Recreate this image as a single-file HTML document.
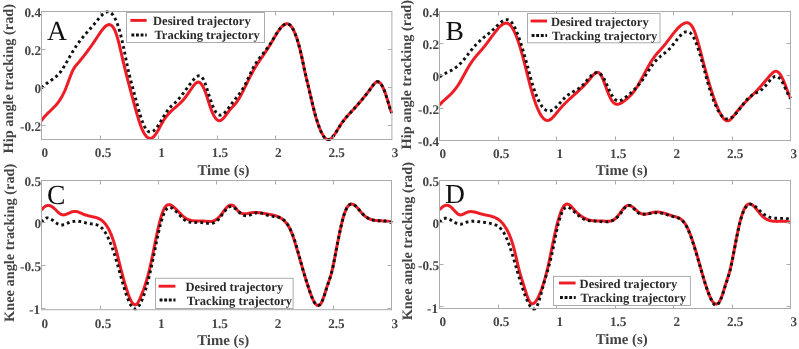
<!DOCTYPE html>
<html><head><meta charset="utf-8"><title>Tracking trajectories</title>
<style>
html,body{margin:0;padding:0;background:#fff;}
svg{display:block;font-family:"Liberation Serif", serif;text-rendering:geometricPrecision;}
.tk{font-size:13.2px;font-weight:bold;fill:#444444;}
.lg{font-size:12.55px;font-weight:bold;fill:#2a2a2a;}
.xl{font-size:14.8px;font-weight:bold;fill:#444444;}
.yl{font-size:14.36px;font-weight:bold;fill:#444444;}
.let{font-size:27.6px;fill:#111;}
</style></head><body>
<svg width="799" height="349" viewBox="0 0 799 349">
<rect width="799" height="349" fill="#fff"/>
<defs><filter id="nf" x="0" y="0" width="100%" height="100%" filterUnits="userSpaceOnUse" color-interpolation-filters="sRGB"><feOffset dx="0" dy="0"/></filter></defs>
<g>
<clipPath id="cA"><rect x="40.7" y="10.0" width="352.4" height="131.0"/></clipPath>
<path d="M41.4 120.8 L41.9 120.1 L42.4 119.4 L42.9 118.7 L43.4 118.1 L43.9 117.5 L44.4 116.9 L44.9 116.3 L45.4 115.7 L45.9 115.2 L46.4 114.7 L46.9 114.1 L47.4 113.6 L47.9 113.1 L48.4 112.6 L48.9 112.2 L49.4 111.7 L49.9 111.2 L50.4 110.7 L50.9 110.3 L51.4 109.8 L51.9 109.3 L52.4 108.8 L52.9 108.3 L53.4 107.8 L53.9 107.3 L54.4 106.8 L54.9 106.3 L55.4 105.7 L55.9 105.2 L56.4 104.6 L56.9 104.0 L57.4 103.4 L57.9 102.7 L58.4 102.1 L58.9 101.4 L59.4 100.6 L59.9 99.9 L60.4 99.1 L60.9 98.3 L61.4 97.5 L61.9 96.6 L62.4 95.7 L62.9 94.7 L63.4 93.7 L63.9 92.7 L64.4 91.6 L64.9 90.5 L65.4 89.3 L65.9 88.1 L66.4 86.8 L66.9 85.5 L67.4 84.2 L67.9 82.9 L68.4 81.5 L68.9 80.1 L69.4 78.8 L69.9 77.4 L70.4 76.1 L70.9 74.8 L71.4 73.6 L71.9 72.4 L72.4 71.3 L72.9 70.2 L73.4 69.3 L73.9 68.4 L74.4 67.6 L74.9 66.9 L75.4 66.2 L75.9 65.6 L76.4 65.0 L76.9 64.4 L77.4 63.8 L77.9 63.2 L78.4 62.7 L78.9 62.1 L79.4 61.5 L79.9 60.9 L80.4 60.3 L80.9 59.6 L81.4 59.0 L81.9 58.4 L82.4 57.8 L82.9 57.1 L83.4 56.5 L83.9 55.9 L84.4 55.2 L84.9 54.6 L85.4 53.9 L85.9 53.3 L86.4 52.6 L86.9 52.0 L87.4 51.3 L87.9 50.6 L88.4 49.9 L88.9 49.2 L89.4 48.6 L89.9 47.9 L90.4 47.2 L90.9 46.5 L91.4 45.7 L91.9 45.0 L92.4 44.3 L92.9 43.6 L93.4 42.8 L93.9 42.1 L94.4 41.4 L94.9 40.6 L95.4 39.8 L95.9 39.1 L96.4 38.3 L96.9 37.6 L97.4 36.8 L97.9 36.0 L98.4 35.3 L98.9 34.5 L99.4 33.8 L99.9 33.1 L100.4 32.3 L100.9 31.7 L101.4 31.0 L101.9 30.3 L102.4 29.7 L102.9 29.1 L103.4 28.5 L103.9 27.9 L104.4 27.4 L104.9 26.9 L105.4 26.4 L105.9 26.0 L106.4 25.6 L106.9 25.3 L107.4 25.1 L107.9 24.9 L108.4 24.7 L108.9 24.6 L109.4 24.6 L109.9 24.7 L110.4 24.9 L110.9 25.1 L111.4 25.4 L111.9 25.8 L112.4 26.3 L112.9 27.0 L113.4 27.7 L113.9 28.5 L114.4 29.4 L114.9 30.5 L115.4 31.7 L115.9 33.0 L116.4 34.4 L116.9 36.0 L117.4 37.6 L117.9 39.4 L118.4 41.3 L118.9 43.2 L119.4 45.2 L119.9 47.3 L120.4 49.4 L120.9 51.5 L121.4 53.7 L121.9 55.9 L122.4 58.1 L122.9 60.2 L123.4 62.4 L123.9 64.5 L124.4 66.6 L124.9 68.7 L125.4 70.7 L125.9 72.7 L126.4 74.7 L126.9 76.7 L127.4 78.6 L127.9 80.5 L128.4 82.5 L128.9 84.4 L129.4 86.2 L129.9 88.1 L130.4 90.0 L130.9 91.8 L131.4 93.7 L131.9 95.5 L132.4 97.4 L132.9 99.2 L133.4 101.1 L133.9 102.9 L134.4 104.8 L134.9 106.6 L135.4 108.5 L135.9 110.3 L136.4 112.1 L136.9 113.8 L137.4 115.5 L137.9 117.2 L138.4 118.9 L138.9 120.5 L139.4 122.0 L139.9 123.5 L140.4 124.9 L140.9 126.3 L141.4 127.6 L141.9 128.8 L142.4 129.9 L142.9 131.0 L143.4 132.0 L143.9 132.9 L144.4 133.8 L144.9 134.5 L145.4 135.2 L145.9 135.9 L146.4 136.4 L146.9 136.9 L147.4 137.3 L147.9 137.7 L148.4 138.0 L148.9 138.2 L149.4 138.3 L149.9 138.4 L150.4 138.4 L150.9 138.3 L151.4 138.2 L151.9 138.0 L152.4 137.7 L152.9 137.3 L153.4 136.9 L153.9 136.5 L154.4 135.9 L154.9 135.3 L155.4 134.6 L155.9 133.9 L156.4 133.2 L156.9 132.4 L157.4 131.5 L157.9 130.7 L158.4 129.8 L158.9 128.9 L159.4 127.9 L159.9 127.0 L160.4 126.1 L160.9 125.1 L161.4 124.2 L161.9 123.3 L162.4 122.4 L162.9 121.6 L163.4 120.8 L163.9 120.0 L164.4 119.2 L164.9 118.5 L165.4 117.8 L165.9 117.1 L166.4 116.4 L166.9 115.8 L167.4 115.2 L167.9 114.6 L168.4 114.0 L168.9 113.5 L169.4 112.9 L169.9 112.4 L170.4 111.9 L170.9 111.4 L171.4 110.9 L171.9 110.5 L172.4 110.0 L172.9 109.6 L173.4 109.1 L173.9 108.7 L174.4 108.2 L174.9 107.8 L175.4 107.4 L175.9 106.9 L176.4 106.5 L176.9 106.1 L177.4 105.6 L177.9 105.2 L178.4 104.8 L178.9 104.3 L179.4 103.8 L179.9 103.4 L180.4 102.9 L180.9 102.4 L181.4 101.9 L181.9 101.4 L182.4 100.9 L182.9 100.3 L183.4 99.7 L183.9 99.1 L184.4 98.5 L184.9 97.9 L185.4 97.3 L185.9 96.6 L186.4 95.9 L186.9 95.2 L187.4 94.5 L187.9 93.8 L188.4 93.1 L188.9 92.4 L189.4 91.7 L189.9 90.9 L190.4 90.2 L190.9 89.5 L191.4 88.8 L191.9 88.0 L192.4 87.3 L192.9 86.6 L193.4 85.9 L193.9 85.3 L194.4 84.7 L194.9 84.1 L195.4 83.6 L195.9 83.1 L196.4 82.8 L196.9 82.5 L197.4 82.2 L197.9 82.1 L198.4 82.1 L198.9 82.2 L199.4 82.4 L199.9 82.7 L200.4 83.1 L200.9 83.6 L201.4 84.2 L201.9 84.9 L202.4 85.7 L202.9 86.5 L203.4 87.5 L203.9 88.5 L204.4 89.7 L204.9 90.9 L205.4 92.2 L205.9 93.6 L206.4 95.0 L206.9 96.5 L207.4 98.1 L207.9 99.7 L208.4 101.3 L208.9 102.9 L209.4 104.5 L209.9 106.0 L210.4 107.4 L210.9 108.8 L211.4 110.2 L211.9 111.4 L212.4 112.6 L212.9 113.7 L213.4 114.7 L213.9 115.7 L214.4 116.5 L214.9 117.3 L215.4 118.0 L215.9 118.7 L216.4 119.2 L216.9 119.7 L217.4 120.0 L217.9 120.3 L218.4 120.5 L218.9 120.7 L219.4 120.7 L219.9 120.6 L220.4 120.5 L220.9 120.3 L221.4 120.0 L221.9 119.6 L222.4 119.2 L222.9 118.8 L223.4 118.2 L223.9 117.7 L224.4 117.1 L224.9 116.5 L225.4 115.8 L225.9 115.2 L226.4 114.5 L226.9 113.8 L227.4 113.1 L227.9 112.4 L228.4 111.7 L228.9 111.1 L229.4 110.4 L229.9 109.8 L230.4 109.2 L230.9 108.6 L231.4 108.1 L231.9 107.5 L232.4 107.0 L232.9 106.5 L233.4 105.9 L233.9 105.4 L234.4 104.9 L234.9 104.3 L235.4 103.7 L235.9 103.1 L236.4 102.4 L236.9 101.8 L237.4 101.0 L237.9 100.3 L238.4 99.5 L238.9 98.7 L239.4 97.9 L239.9 97.0 L240.4 96.1 L240.9 95.2 L241.4 94.3 L241.9 93.4 L242.4 92.4 L242.9 91.4 L243.4 90.4 L243.9 89.4 L244.4 88.4 L244.9 87.4 L245.4 86.4 L245.9 85.4 L246.4 84.4 L246.9 83.3 L247.4 82.3 L247.9 81.3 L248.4 80.2 L248.9 79.2 L249.4 78.2 L249.9 77.2 L250.4 76.2 L250.9 75.2 L251.4 74.3 L251.9 73.3 L252.4 72.4 L252.9 71.4 L253.4 70.5 L253.9 69.6 L254.4 68.7 L254.9 67.9 L255.4 67.0 L255.9 66.2 L256.4 65.4 L256.9 64.6 L257.4 63.9 L257.9 63.1 L258.4 62.4 L258.9 61.6 L259.4 60.9 L259.9 60.2 L260.4 59.4 L260.9 58.7 L261.4 58.0 L261.9 57.3 L262.4 56.6 L262.9 55.8 L263.4 55.1 L263.9 54.4 L264.4 53.7 L264.9 52.9 L265.4 52.2 L265.9 51.4 L266.4 50.7 L266.9 49.9 L267.4 49.2 L267.9 48.4 L268.4 47.6 L268.9 46.8 L269.4 46.0 L269.9 45.2 L270.4 44.3 L270.9 43.5 L271.4 42.6 L271.9 41.8 L272.4 40.9 L272.9 40.1 L273.4 39.2 L273.9 38.3 L274.4 37.5 L274.9 36.6 L275.4 35.8 L275.9 34.9 L276.4 34.1 L276.9 33.3 L277.4 32.5 L277.9 31.7 L278.4 31.0 L278.9 30.3 L279.4 29.6 L279.9 28.9 L280.4 28.3 L280.9 27.7 L281.4 27.1 L281.9 26.6 L282.4 26.1 L282.9 25.6 L283.4 25.2 L283.9 24.9 L284.4 24.6 L284.9 24.3 L285.4 24.1 L285.9 23.9 L286.4 23.8 L286.9 23.8 L287.4 23.8 L287.9 23.9 L288.4 24.1 L288.9 24.3 L289.4 24.6 L289.9 25.0 L290.4 25.4 L290.9 26.0 L291.4 26.6 L291.9 27.3 L292.4 28.0 L292.9 28.9 L293.4 29.8 L293.9 30.8 L294.4 31.9 L294.9 33.1 L295.4 34.3 L295.9 35.6 L296.4 37.0 L296.9 38.5 L297.4 40.1 L297.9 41.7 L298.4 43.4 L298.9 45.2 L299.4 47.1 L299.9 49.0 L300.4 51.1 L300.9 53.2 L301.4 55.4 L301.9 57.6 L302.4 60.0 L302.9 62.4 L303.4 64.8 L303.9 67.2 L304.4 69.6 L304.9 71.9 L305.4 74.1 L305.9 76.2 L306.4 78.2 L306.9 80.3 L307.4 82.3 L307.9 84.3 L308.4 86.4 L308.9 88.5 L309.4 90.6 L309.9 92.8 L310.4 95.0 L310.9 97.2 L311.4 99.3 L311.9 101.5 L312.4 103.7 L312.9 105.8 L313.4 107.9 L313.9 109.9 L314.4 111.9 L314.9 113.8 L315.4 115.6 L315.9 117.3 L316.4 119.0 L316.9 120.6 L317.4 122.1 L317.9 123.6 L318.4 125.0 L318.9 126.4 L319.4 127.6 L319.9 128.9 L320.4 130.0 L320.9 131.2 L321.4 132.2 L321.9 133.2 L322.4 134.1 L322.9 135.0 L323.4 135.8 L323.9 136.5 L324.4 137.2 L324.9 137.8 L325.4 138.3 L325.9 138.7 L326.4 139.1 L326.9 139.3 L327.4 139.5 L327.9 139.7 L328.4 139.7 L328.9 139.7 L329.4 139.5 L329.9 139.3 L330.4 139.0 L330.9 138.7 L331.4 138.3 L331.9 137.8 L332.4 137.3 L332.9 136.7 L333.4 136.1 L333.9 135.4 L334.4 134.7 L334.9 134.0 L335.4 133.2 L335.9 132.4 L336.4 131.6 L336.9 130.8 L337.4 130.0 L337.9 129.2 L338.4 128.3 L338.9 127.5 L339.4 126.7 L339.9 125.9 L340.4 125.1 L340.9 124.4 L341.4 123.6 L341.9 122.9 L342.4 122.2 L342.9 121.5 L343.4 120.8 L343.9 120.2 L344.4 119.6 L344.9 118.9 L345.4 118.3 L345.9 117.7 L346.4 117.1 L346.9 116.6 L347.4 116.0 L347.9 115.4 L348.4 114.9 L348.9 114.3 L349.4 113.8 L349.9 113.2 L350.4 112.7 L350.9 112.2 L351.4 111.6 L351.9 111.1 L352.4 110.5 L352.9 110.0 L353.4 109.5 L353.9 108.9 L354.4 108.4 L354.9 107.8 L355.4 107.3 L355.9 106.7 L356.4 106.1 L356.9 105.6 L357.4 105.0 L357.9 104.4 L358.4 103.9 L358.9 103.3 L359.4 102.7 L359.9 102.1 L360.4 101.6 L360.9 101.0 L361.4 100.4 L361.9 99.8 L362.4 99.2 L362.9 98.6 L363.4 98.0 L363.9 97.3 L364.4 96.7 L364.9 96.1 L365.4 95.5 L365.9 94.8 L366.4 94.2 L366.9 93.6 L367.4 92.9 L367.9 92.3 L368.4 91.6 L368.9 90.9 L369.4 90.3 L369.9 89.6 L370.4 88.9 L370.9 88.2 L371.4 87.5 L371.9 86.9 L372.4 86.2 L372.9 85.5 L373.4 84.8 L373.9 84.2 L374.4 83.7 L374.9 83.1 L375.4 82.7 L375.9 82.3 L376.4 82.0 L376.9 81.8 L377.4 81.7 L377.9 81.7 L378.4 81.8 L378.9 82.1 L379.4 82.4 L379.9 82.8 L380.4 83.3 L380.9 83.9 L381.4 84.7 L381.9 85.5 L382.4 86.4 L382.9 87.3 L383.4 88.4 L383.9 89.6 L384.4 90.8 L384.9 92.1 L385.4 93.5 L385.9 94.9 L386.4 96.5 L386.9 98.1 L387.4 99.7 L387.9 101.4 L388.4 103.1 L388.9 104.8 L389.4 106.4 L389.9 108.0 L390.4 109.5 L390.9 110.9 L391.4 112.3 L391.7 113.0" fill="none" stroke="#ee1c25" stroke-width="3" stroke-linejoin="round" clip-path="url(#cA)"/>
<path d="M41.6 88.0 L42.1 87.5 L42.6 86.9 L43.1 86.4 L43.6 86.0 L44.1 85.5 L44.6 85.1 L45.1 84.7 L45.6 84.2 L46.1 83.8 L46.6 83.5 L47.1 83.1 L47.6 82.7 L48.1 82.4 L48.6 82.0 L49.1 81.7 L49.6 81.3 L50.1 81.0 L50.6 80.7 L51.1 80.3 L51.6 80.0 L52.1 79.6 L52.6 79.3 L53.1 78.9 L53.6 78.6 L54.1 78.2 L54.6 77.8 L55.1 77.4 L55.6 77.0 L56.1 76.5 L56.6 76.1 L57.1 75.6 L57.6 75.1 L58.1 74.6 L58.6 74.1 L59.1 73.6 L59.6 73.0 L60.1 72.4 L60.6 71.7 L61.1 71.1 L61.6 70.4 L62.1 69.7 L62.6 68.9 L63.1 68.1 L63.6 67.3 L64.1 66.5 L64.6 65.7 L65.1 64.9 L65.6 64.0 L66.1 63.1 L66.6 62.3 L67.1 61.4 L67.6 60.5 L68.1 59.6 L68.6 58.7 L69.1 57.8 L69.6 56.9 L70.1 56.1 L70.6 55.2 L71.1 54.3 L71.6 53.5 L72.1 52.6 L72.6 51.8 L73.1 51.0 L73.6 50.2 L74.1 49.3 L74.6 48.6 L75.1 47.8 L75.6 47.0 L76.1 46.2 L76.6 45.5 L77.1 44.8 L77.6 44.0 L78.1 43.3 L78.6 42.6 L79.1 42.0 L79.6 41.3 L80.1 40.6 L80.6 40.0 L81.1 39.4 L81.6 38.7 L82.1 38.1 L82.6 37.5 L83.1 36.9 L83.6 36.3 L84.1 35.7 L84.6 35.1 L85.1 34.5 L85.6 34.0 L86.1 33.4 L86.6 32.8 L87.1 32.3 L87.6 31.7 L88.1 31.1 L88.6 30.6 L89.1 30.0 L89.6 29.5 L90.1 28.9 L90.6 28.4 L91.1 27.8 L91.6 27.2 L92.1 26.7 L92.6 26.1 L93.1 25.5 L93.6 24.9 L94.1 24.3 L94.6 23.7 L95.1 23.1 L95.6 22.5 L96.1 21.9 L96.6 21.3 L97.1 20.7 L97.6 20.0 L98.1 19.4 L98.6 18.8 L99.1 18.2 L99.6 17.6 L100.1 17.0 L100.6 16.5 L101.1 15.9 L101.6 15.4 L102.1 14.9 L102.6 14.5 L103.1 14.0 L103.6 13.6 L104.1 13.2 L104.6 12.9 L105.1 12.6 L105.6 12.4 L106.1 12.2 L106.6 12.0 L107.1 11.9 L107.6 11.9 L108.1 11.9 L108.6 11.9 L109.1 12.1 L109.6 12.2 L110.1 12.5 L110.6 12.8 L111.1 13.1 L111.6 13.5 L112.1 14.0 L112.6 14.6 L113.1 15.2 L113.6 16.0 L114.1 16.7 L114.6 17.6 L115.1 18.6 L115.6 19.6 L116.1 20.7 L116.6 21.9 L117.1 23.2 L117.6 24.6 L118.1 26.0 L118.6 27.6 L119.1 29.2 L119.6 31.0 L120.1 32.8 L120.6 34.7 L121.1 36.7 L121.6 38.8 L122.1 40.9 L122.6 43.1 L123.1 45.3 L123.6 47.6 L124.1 50.0 L124.6 52.4 L125.1 54.9 L125.6 57.4 L126.1 59.9 L126.6 62.4 L127.1 64.8 L127.6 67.2 L128.1 69.5 L128.6 71.7 L129.1 73.8 L129.6 75.9 L130.1 77.9 L130.6 79.8 L131.1 81.7 L131.6 83.6 L132.1 85.4 L132.6 87.3 L133.1 89.1 L133.6 91.0 L134.1 92.9 L134.6 94.8 L135.1 96.7 L135.6 98.6 L136.1 100.4 L136.6 102.3 L137.1 104.2 L137.6 106.0 L138.1 107.8 L138.6 109.6 L139.1 111.3 L139.6 113.0 L140.1 114.7 L140.6 116.3 L141.1 117.8 L141.6 119.3 L142.1 120.7 L142.6 122.1 L143.1 123.3 L143.6 124.5 L144.1 125.7 L144.6 126.7 L145.1 127.6 L145.6 128.5 L146.1 129.2 L146.6 129.8 L147.1 130.4 L147.6 130.9 L148.1 131.3 L148.6 131.6 L149.1 131.8 L149.6 132.0 L150.1 132.1 L150.6 132.1 L151.1 132.0 L151.6 131.9 L152.1 131.7 L152.6 131.5 L153.1 131.2 L153.6 130.8 L154.1 130.4 L154.6 129.9 L155.1 129.4 L155.6 128.9 L156.1 128.3 L156.6 127.6 L157.1 127.0 L157.6 126.3 L158.1 125.6 L158.6 124.8 L159.1 124.0 L159.6 123.2 L160.1 122.4 L160.6 121.6 L161.1 120.8 L161.6 119.9 L162.1 119.1 L162.6 118.2 L163.1 117.4 L163.6 116.5 L164.1 115.7 L164.6 114.9 L165.1 114.1 L165.6 113.3 L166.1 112.5 L166.6 111.8 L167.1 111.1 L167.6 110.4 L168.1 109.7 L168.6 109.1 L169.1 108.5 L169.6 108.0 L170.1 107.4 L170.6 106.9 L171.1 106.4 L171.6 105.9 L172.1 105.5 L172.6 105.0 L173.1 104.5 L173.6 104.1 L174.1 103.6 L174.6 103.2 L175.1 102.7 L175.6 102.2 L176.1 101.7 L176.6 101.2 L177.1 100.7 L177.6 100.2 L178.1 99.6 L178.6 99.0 L179.1 98.5 L179.6 97.9 L180.1 97.3 L180.6 96.6 L181.1 96.0 L181.6 95.4 L182.1 94.8 L182.6 94.1 L183.1 93.5 L183.6 92.8 L184.1 92.1 L184.6 91.5 L185.1 90.8 L185.6 90.1 L186.1 89.4 L186.6 88.7 L187.1 88.1 L187.6 87.4 L188.1 86.7 L188.6 86.0 L189.1 85.4 L189.6 84.7 L190.1 84.0 L190.6 83.4 L191.1 82.7 L191.6 82.1 L192.1 81.4 L192.6 80.8 L193.1 80.2 L193.6 79.6 L194.1 79.0 L194.6 78.4 L195.1 77.9 L195.6 77.5 L196.1 77.0 L196.6 76.7 L197.1 76.4 L197.6 76.1 L198.1 75.9 L198.6 75.8 L199.1 75.8 L199.6 75.8 L200.1 76.0 L200.6 76.2 L201.1 76.5 L201.6 76.9 L202.1 77.5 L202.6 78.2 L203.1 78.9 L203.6 79.8 L204.1 80.9 L204.6 82.0 L205.1 83.3 L205.6 84.7 L206.1 86.1 L206.6 87.7 L207.1 89.2 L207.6 90.8 L208.1 92.4 L208.6 93.9 L209.1 95.5 L209.6 97.0 L210.1 98.6 L210.6 100.0 L211.1 101.5 L211.6 102.9 L212.1 104.2 L212.6 105.5 L213.1 106.7 L213.6 107.9 L214.1 109.0 L214.6 110.0 L215.1 110.9 L215.6 111.8 L216.1 112.5 L216.6 113.1 L217.1 113.7 L217.6 114.1 L218.1 114.5 L218.6 114.8 L219.1 115.0 L219.6 115.1 L220.1 115.1 L220.6 115.1 L221.1 115.0 L221.6 114.8 L222.1 114.6 L222.6 114.3 L223.1 114.0 L223.6 113.6 L224.1 113.2 L224.6 112.7 L225.1 112.2 L225.6 111.7 L226.1 111.1 L226.6 110.5 L227.1 109.9 L227.6 109.2 L228.1 108.6 L228.6 107.9 L229.1 107.2 L229.6 106.5 L230.1 105.8 L230.6 105.1 L231.1 104.4 L231.6 103.7 L232.1 103.1 L232.6 102.4 L233.1 101.8 L233.6 101.1 L234.1 100.5 L234.6 99.9 L235.1 99.2 L235.6 98.6 L236.1 98.0 L236.6 97.4 L237.1 96.8 L237.6 96.1 L238.1 95.5 L238.6 94.8 L239.1 94.2 L239.6 93.5 L240.1 92.8 L240.6 92.1 L241.1 91.4 L241.6 90.6 L242.1 89.8 L242.6 89.0 L243.1 88.2 L243.6 87.4 L244.1 86.5 L244.6 85.5 L245.1 84.6 L245.6 83.6 L246.1 82.6 L246.6 81.6 L247.1 80.5 L247.6 79.5 L248.1 78.4 L248.6 77.4 L249.1 76.3 L249.6 75.2 L250.1 74.2 L250.6 73.1 L251.1 72.0 L251.6 71.0 L252.1 70.0 L252.6 69.0 L253.1 68.0 L253.6 67.0 L254.1 66.1 L254.6 65.2 L255.1 64.3 L255.6 63.5 L256.1 62.7 L256.6 62.0 L257.1 61.2 L257.6 60.5 L258.1 59.9 L258.6 59.2 L259.1 58.5 L259.6 57.9 L260.1 57.2 L260.6 56.6 L261.1 56.0 L261.6 55.4 L262.1 54.7 L262.6 54.1 L263.1 53.5 L263.6 52.8 L264.1 52.2 L264.6 51.6 L265.1 50.9 L265.6 50.3 L266.1 49.6 L266.6 49.0 L267.1 48.3 L267.6 47.6 L268.1 46.9 L268.6 46.2 L269.1 45.5 L269.6 44.7 L270.1 44.0 L270.6 43.2 L271.1 42.4 L271.6 41.6 L272.1 40.8 L272.6 40.0 L273.1 39.2 L273.6 38.4 L274.1 37.6 L274.6 36.7 L275.1 35.9 L275.6 35.1 L276.1 34.3 L276.6 33.5 L277.1 32.8 L277.6 32.0 L278.1 31.3 L278.6 30.6 L279.1 29.9 L279.6 29.2 L280.1 28.6 L280.6 27.9 L281.1 27.4 L281.6 26.8 L282.1 26.3 L282.6 25.9 L283.1 25.4 L283.6 25.1 L284.1 24.7 L284.6 24.4 L285.1 24.2 L285.6 24.0 L286.1 23.9 L286.6 23.8 L287.1 23.8 L287.6 23.9 L288.1 24.0 L288.6 24.2 L289.1 24.5 L289.6 24.8 L290.1 25.2 L290.6 25.7 L291.1 26.3 L291.6 26.9 L292.1 27.6 L292.6 28.5 L293.1 29.3 L293.6 30.3 L294.1 31.4 L294.6 32.5 L295.1 33.7 L295.6 35.0 L296.1 36.3 L296.6 37.7 L297.1 39.2 L297.6 40.8 L298.1 42.5 L298.6 44.2 L299.1 46.0 L299.6 47.9 L300.1 49.9 L300.6 51.9 L301.1 54.0 L301.6 56.2 L302.1 58.4 L302.6 60.7 L303.1 63.1 L303.6 65.4 L304.1 67.8 L304.6 70.2 L305.1 72.5 L305.6 74.7 L306.1 76.9 L306.6 79.1 L307.1 81.3 L307.6 83.4 L308.1 85.5 L308.6 87.7 L309.1 89.8 L309.6 91.9 L310.1 94.0 L310.6 96.1 L311.1 98.2 L311.6 100.3 L312.1 102.3 L312.6 104.3 L313.1 106.3 L313.6 108.3 L314.1 110.2 L314.6 112.1 L315.1 114.0 L315.6 115.8 L316.1 117.5 L316.6 119.3 L317.1 120.9 L317.6 122.5 L318.1 124.0 L318.6 125.5 L319.1 126.9 L319.6 128.3 L320.1 129.5 L320.6 130.7 L321.1 131.9 L321.6 132.9 L322.1 133.9 L322.6 134.8 L323.1 135.6 L323.6 136.4 L324.1 137.0 L324.6 137.6 L325.1 138.2 L325.6 138.6 L326.1 139.0 L326.6 139.3 L327.1 139.5 L327.6 139.6 L328.1 139.7 L328.6 139.6 L329.1 139.5 L329.6 139.3 L330.1 139.1 L330.6 138.8 L331.1 138.4 L331.6 137.9 L332.1 137.4 L332.6 136.9 L333.1 136.3 L333.6 135.7 L334.1 135.0 L334.6 134.3 L335.1 133.6 L335.6 132.8 L336.1 132.1 L336.6 131.3 L337.1 130.5 L337.6 129.7 L338.1 128.8 L338.6 128.0 L339.1 127.2 L339.6 126.4 L340.1 125.6 L340.6 124.9 L341.1 124.1 L341.6 123.4 L342.1 122.7 L342.6 122.0 L343.1 121.3 L343.6 120.7 L344.1 120.0 L344.6 119.4 L345.1 118.8 L345.6 118.1 L346.1 117.5 L346.6 117.0 L347.1 116.4 L347.6 115.8 L348.1 115.2 L348.6 114.7 L349.1 114.1 L349.6 113.6 L350.1 113.0 L350.6 112.5 L351.1 111.9 L351.6 111.4 L352.1 110.8 L352.6 110.3 L353.1 109.8 L353.6 109.2 L354.1 108.7 L354.6 108.1 L355.1 107.5 L355.6 107.0 L356.1 106.4 L356.6 105.9 L357.1 105.3 L357.6 104.7 L358.1 104.2 L358.6 103.6 L359.1 103.0 L359.6 102.5 L360.1 101.9 L360.6 101.3 L361.1 100.7 L361.6 100.1 L362.1 99.5 L362.6 98.9 L363.1 98.3 L363.6 97.7 L364.1 97.1 L364.6 96.5 L365.1 95.9 L365.6 95.2 L366.1 94.6 L366.6 94.0 L367.1 93.3 L367.6 92.7 L368.1 92.0 L368.6 91.4 L369.1 90.7 L369.6 90.0 L370.1 89.4 L370.6 88.7 L371.1 88.0 L371.6 87.3 L372.1 86.6 L372.6 85.9 L373.1 85.2 L373.6 84.6 L374.1 84.0 L374.6 83.4 L375.1 82.9 L375.6 82.5 L376.1 82.2 L376.6 81.9 L377.1 81.7 L377.6 81.7 L378.1 81.7 L378.6 81.9 L379.1 82.2 L379.6 82.5 L380.1 83.0 L380.6 83.6 L381.1 84.2 L381.6 85.0 L382.1 85.8 L382.6 86.8 L383.1 87.8 L383.6 88.9 L384.1 90.1 L384.6 91.3 L385.1 92.7 L385.6 94.1 L386.1 95.6 L386.6 97.1 L387.1 98.7 L387.6 100.4 L388.1 102.0 L388.6 103.7 L389.1 105.4 L389.6 107.0 L390.1 108.6 L390.6 110.1 L391.1 111.5 L391.6 112.8 L391.7 113.0" fill="none" stroke="#111" stroke-width="2.9" stroke-dasharray="2.8 3.1" stroke-linejoin="round" clip-path="url(#cA)"/>
<rect x="41.5" y="11.5" width="350.4" height="128.0" fill="none" stroke="#acacac" stroke-width="1"/>
<path d="M100.5 139.5 v-4 M100.5 11.5 v4 M158.5 139.5 v-4 M158.5 11.5 v4 M217.5 139.5 v-4 M217.5 11.5 v4 M275.5 139.5 v-4 M275.5 11.5 v4 M333.5 139.5 v-4 M333.5 11.5 v4 M41.5 11.5 h4 M391.9 11.5 h-4 M41.5 49.5 h4 M391.9 49.5 h-4 M41.5 87.5 h4 M391.9 87.5 h-4 M41.5 125.5 h4 M391.9 125.5 h-4" stroke="#acacac" stroke-width="1" fill="none"/>
<rect x="126.5" y="12.5" width="138.0" height="30.0" fill="#fff" stroke="#acacac" stroke-width="1"/>
<path d="M130.4 20.4 H146.6" stroke="#ee1c25" stroke-width="2.9"/>
<path d="M131.4 35 H146.7" stroke="#111" stroke-width="3" stroke-dasharray="2.9 1.7"/>
<clipPath id="cB"><rect x="438.7" y="10.0" width="353.0" height="132.0"/></clipPath>
<path d="M439.2 105.2 L439.7 104.7 L440.2 104.2 L440.7 103.6 L441.2 103.1 L441.7 102.6 L442.2 102.1 L442.7 101.6 L443.2 101.2 L443.7 100.7 L444.2 100.2 L444.7 99.8 L445.2 99.3 L445.7 98.9 L446.2 98.4 L446.7 98.0 L447.2 97.5 L447.7 97.0 L448.2 96.6 L448.7 96.1 L449.2 95.7 L449.7 95.2 L450.2 94.7 L450.7 94.2 L451.2 93.7 L451.7 93.2 L452.2 92.7 L452.7 92.1 L453.2 91.6 L453.7 91.0 L454.2 90.4 L454.7 89.8 L455.2 89.2 L455.7 88.5 L456.2 87.9 L456.7 87.2 L457.2 86.5 L457.7 85.8 L458.2 85.0 L458.7 84.2 L459.2 83.4 L459.7 82.6 L460.2 81.8 L460.7 80.9 L461.2 80.0 L461.7 79.1 L462.2 78.2 L462.7 77.3 L463.2 76.4 L463.7 75.5 L464.2 74.6 L464.7 73.7 L465.2 72.8 L465.7 71.8 L466.2 70.9 L466.7 70.0 L467.2 69.1 L467.7 68.3 L468.2 67.4 L468.7 66.6 L469.2 65.7 L469.7 64.9 L470.2 64.1 L470.7 63.3 L471.2 62.6 L471.7 61.9 L472.2 61.2 L472.7 60.5 L473.2 59.8 L473.7 59.1 L474.2 58.5 L474.7 57.9 L475.2 57.2 L475.7 56.6 L476.2 56.0 L476.7 55.4 L477.2 54.8 L477.7 54.3 L478.2 53.7 L478.7 53.1 L479.2 52.5 L479.7 52.0 L480.2 51.4 L480.7 50.8 L481.2 50.3 L481.7 49.7 L482.2 49.1 L482.7 48.5 L483.2 47.9 L483.7 47.3 L484.2 46.7 L484.7 46.1 L485.2 45.4 L485.7 44.8 L486.2 44.1 L486.7 43.5 L487.2 42.8 L487.7 42.2 L488.2 41.5 L488.7 40.8 L489.2 40.1 L489.7 39.4 L490.2 38.8 L490.7 38.1 L491.2 37.4 L491.7 36.7 L492.2 36.0 L492.7 35.4 L493.2 34.7 L493.7 34.0 L494.2 33.4 L494.7 32.7 L495.2 32.1 L495.7 31.4 L496.2 30.8 L496.7 30.2 L497.2 29.6 L497.7 29.0 L498.2 28.4 L498.7 27.8 L499.2 27.3 L499.7 26.8 L500.2 26.3 L500.7 25.8 L501.2 25.4 L501.7 25.0 L502.2 24.6 L502.7 24.3 L503.2 24.0 L503.7 23.7 L504.2 23.5 L504.7 23.3 L505.2 23.2 L505.7 23.2 L506.2 23.1 L506.7 23.2 L507.2 23.3 L507.7 23.4 L508.2 23.6 L508.7 23.9 L509.2 24.3 L509.7 24.7 L510.2 25.1 L510.7 25.7 L511.2 26.3 L511.7 27.0 L512.2 27.7 L512.7 28.5 L513.2 29.4 L513.7 30.4 L514.2 31.4 L514.7 32.4 L515.2 33.5 L515.7 34.7 L516.2 35.9 L516.7 37.2 L517.2 38.6 L517.7 40.0 L518.2 41.4 L518.7 42.9 L519.2 44.4 L519.7 46.0 L520.2 47.7 L520.7 49.3 L521.2 51.0 L521.7 52.8 L522.2 54.6 L522.7 56.4 L523.2 58.2 L523.7 60.1 L524.2 62.0 L524.7 64.0 L525.2 65.9 L525.7 67.9 L526.2 69.9 L526.7 71.9 L527.2 73.9 L527.7 75.9 L528.2 77.9 L528.7 79.9 L529.2 81.9 L529.7 83.8 L530.2 85.7 L530.7 87.6 L531.2 89.4 L531.7 91.2 L532.2 92.9 L532.7 94.6 L533.2 96.2 L533.7 97.8 L534.2 99.4 L534.7 100.8 L535.2 102.3 L535.7 103.7 L536.2 105.0 L536.7 106.3 L537.2 107.6 L537.7 108.7 L538.2 109.9 L538.7 111.0 L539.2 112.0 L539.7 113.0 L540.2 113.9 L540.7 114.7 L541.2 115.6 L541.7 116.3 L542.2 117.0 L542.7 117.6 L543.2 118.2 L543.7 118.7 L544.2 119.1 L544.7 119.5 L545.2 119.9 L545.7 120.1 L546.2 120.3 L546.7 120.4 L547.2 120.5 L547.7 120.5 L548.2 120.4 L548.7 120.3 L549.2 120.1 L549.7 119.9 L550.2 119.6 L550.7 119.3 L551.2 118.9 L551.7 118.5 L552.2 118.0 L552.7 117.5 L553.2 117.0 L553.7 116.4 L554.2 115.9 L554.7 115.3 L555.2 114.7 L555.7 114.1 L556.2 113.4 L556.7 112.8 L557.2 112.2 L557.7 111.6 L558.2 111.0 L558.7 110.4 L559.2 109.8 L559.7 109.2 L560.2 108.6 L560.7 108.0 L561.2 107.5 L561.7 106.9 L562.2 106.4 L562.7 105.8 L563.2 105.3 L563.7 104.8 L564.2 104.3 L564.7 103.8 L565.2 103.2 L565.7 102.7 L566.2 102.3 L566.7 101.8 L567.2 101.3 L567.7 100.8 L568.2 100.3 L568.7 99.8 L569.2 99.4 L569.7 98.9 L570.2 98.4 L570.7 98.0 L571.2 97.5 L571.7 97.1 L572.2 96.6 L572.7 96.2 L573.2 95.7 L573.7 95.3 L574.2 94.8 L574.7 94.4 L575.2 93.9 L575.7 93.5 L576.2 93.0 L576.7 92.6 L577.2 92.1 L577.7 91.6 L578.2 91.2 L578.7 90.7 L579.2 90.3 L579.7 89.8 L580.2 89.3 L580.7 88.8 L581.2 88.4 L581.7 87.9 L582.2 87.4 L582.7 86.9 L583.2 86.4 L583.7 85.9 L584.2 85.4 L584.7 84.9 L585.2 84.3 L585.7 83.8 L586.2 83.3 L586.7 82.7 L587.2 82.2 L587.7 81.6 L588.2 81.0 L588.7 80.4 L589.2 79.8 L589.7 79.2 L590.2 78.6 L590.7 78.0 L591.2 77.4 L591.7 76.7 L592.2 76.1 L592.7 75.6 L593.2 75.0 L593.7 74.5 L594.2 74.0 L594.7 73.6 L595.2 73.2 L595.7 72.9 L596.2 72.6 L596.7 72.5 L597.2 72.4 L597.7 72.4 L598.2 72.5 L598.7 72.7 L599.2 73.1 L599.7 73.5 L600.2 74.1 L600.7 74.8 L601.2 75.6 L601.7 76.5 L602.2 77.6 L602.7 78.7 L603.2 79.8 L603.7 81.1 L604.2 82.4 L604.7 83.7 L605.2 85.1 L605.7 86.4 L606.2 87.8 L606.7 89.2 L607.2 90.6 L607.7 91.9 L608.2 93.1 L608.7 94.4 L609.2 95.5 L609.7 96.6 L610.2 97.7 L610.7 98.6 L611.2 99.5 L611.7 100.4 L612.2 101.1 L612.7 101.8 L613.2 102.3 L613.7 102.8 L614.2 103.2 L614.7 103.6 L615.2 103.8 L615.7 104.0 L616.2 104.2 L616.7 104.3 L617.2 104.3 L617.7 104.3 L618.2 104.2 L618.7 104.1 L619.2 103.9 L619.7 103.7 L620.2 103.5 L620.7 103.3 L621.2 103.0 L621.7 102.7 L622.2 102.4 L622.7 102.0 L623.2 101.7 L623.7 101.3 L624.2 101.0 L624.7 100.6 L625.2 100.2 L625.7 99.8 L626.2 99.4 L626.7 99.0 L627.2 98.6 L627.7 98.2 L628.2 97.7 L628.7 97.3 L629.2 96.8 L629.7 96.3 L630.2 95.8 L630.7 95.3 L631.2 94.7 L631.7 94.2 L632.2 93.6 L632.7 93.0 L633.2 92.4 L633.7 91.7 L634.2 91.1 L634.7 90.4 L635.2 89.7 L635.7 88.9 L636.2 88.2 L636.7 87.4 L637.2 86.6 L637.7 85.8 L638.2 84.9 L638.7 84.1 L639.2 83.2 L639.7 82.3 L640.2 81.4 L640.7 80.5 L641.2 79.6 L641.7 78.7 L642.2 77.8 L642.7 76.9 L643.2 75.9 L643.7 75.0 L644.2 74.0 L644.7 73.1 L645.2 72.2 L645.7 71.2 L646.2 70.3 L646.7 69.4 L647.2 68.5 L647.7 67.6 L648.2 66.7 L648.7 65.8 L649.2 64.9 L649.7 64.0 L650.2 63.2 L650.7 62.4 L651.2 61.5 L651.7 60.7 L652.2 60.0 L652.7 59.2 L653.2 58.5 L653.7 57.8 L654.2 57.1 L654.7 56.4 L655.2 55.8 L655.7 55.2 L656.2 54.5 L656.7 53.9 L657.2 53.4 L657.7 52.8 L658.2 52.2 L658.7 51.6 L659.2 51.1 L659.7 50.5 L660.2 50.0 L660.7 49.4 L661.2 48.9 L661.7 48.3 L662.2 47.8 L662.7 47.2 L663.2 46.6 L663.7 46.0 L664.2 45.4 L664.7 44.8 L665.2 44.2 L665.7 43.6 L666.2 42.9 L666.7 42.3 L667.2 41.6 L667.7 41.0 L668.2 40.3 L668.7 39.7 L669.2 39.0 L669.7 38.3 L670.2 37.7 L670.7 37.0 L671.2 36.3 L671.7 35.7 L672.2 35.0 L672.7 34.4 L673.2 33.7 L673.7 33.1 L674.2 32.5 L674.7 31.9 L675.2 31.2 L675.7 30.7 L676.2 30.1 L676.7 29.5 L677.2 28.9 L677.7 28.4 L678.2 27.9 L678.7 27.4 L679.2 26.9 L679.7 26.4 L680.2 26.0 L680.7 25.6 L681.2 25.2 L681.7 24.8 L682.2 24.5 L682.7 24.1 L683.2 23.9 L683.7 23.6 L684.2 23.4 L684.7 23.2 L685.2 23.0 L685.7 22.9 L686.2 22.8 L686.7 22.8 L687.2 22.8 L687.7 22.8 L688.2 23.0 L688.7 23.2 L689.2 23.4 L689.7 23.8 L690.2 24.2 L690.7 24.6 L691.2 25.2 L691.7 25.9 L692.2 26.6 L692.7 27.4 L693.2 28.4 L693.7 29.4 L694.2 30.5 L694.7 31.8 L695.2 33.1 L695.7 34.6 L696.2 36.1 L696.7 37.7 L697.2 39.3 L697.7 41.0 L698.2 42.8 L698.7 44.6 L699.2 46.5 L699.7 48.3 L700.2 50.2 L700.7 52.2 L701.2 54.1 L701.7 56.0 L702.2 58.0 L702.7 59.9 L703.2 61.8 L703.7 63.7 L704.2 65.6 L704.7 67.4 L705.2 69.3 L705.7 71.1 L706.2 72.9 L706.7 74.7 L707.2 76.5 L707.7 78.3 L708.2 80.0 L708.7 81.7 L709.2 83.4 L709.7 85.1 L710.2 86.7 L710.7 88.3 L711.2 89.9 L711.7 91.5 L712.2 93.0 L712.7 94.5 L713.2 96.0 L713.7 97.4 L714.2 98.9 L714.7 100.2 L715.2 101.6 L715.7 102.9 L716.2 104.2 L716.7 105.5 L717.2 106.7 L717.7 107.9 L718.2 109.1 L718.7 110.2 L719.2 111.3 L719.7 112.3 L720.2 113.3 L720.7 114.2 L721.2 115.1 L721.7 115.9 L722.2 116.7 L722.7 117.4 L723.2 118.1 L723.7 118.7 L724.2 119.2 L724.7 119.6 L725.2 120.0 L725.7 120.3 L726.2 120.6 L726.7 120.8 L727.2 120.8 L727.7 120.8 L728.2 120.8 L728.7 120.6 L729.2 120.4 L729.7 120.1 L730.2 119.7 L730.7 119.3 L731.2 118.8 L731.7 118.3 L732.2 117.7 L732.7 117.1 L733.2 116.5 L733.7 115.9 L734.2 115.2 L734.7 114.6 L735.2 113.9 L735.7 113.2 L736.2 112.6 L736.7 111.9 L737.2 111.3 L737.7 110.7 L738.2 110.1 L738.7 109.5 L739.2 108.9 L739.7 108.3 L740.2 107.7 L740.7 107.1 L741.2 106.6 L741.7 106.0 L742.2 105.5 L742.7 104.9 L743.2 104.4 L743.7 103.9 L744.2 103.3 L744.7 102.8 L745.2 102.3 L745.7 101.8 L746.2 101.3 L746.7 100.8 L747.2 100.3 L747.7 99.8 L748.2 99.3 L748.7 98.8 L749.2 98.3 L749.7 97.8 L750.2 97.3 L750.7 96.8 L751.2 96.3 L751.7 95.8 L752.2 95.3 L752.7 94.8 L753.2 94.3 L753.7 93.8 L754.2 93.3 L754.7 92.8 L755.2 92.3 L755.7 91.8 L756.2 91.2 L756.7 90.7 L757.2 90.2 L757.7 89.6 L758.2 89.1 L758.7 88.6 L759.2 88.0 L759.7 87.5 L760.2 86.9 L760.7 86.3 L761.2 85.8 L761.7 85.2 L762.2 84.6 L762.7 84.0 L763.2 83.5 L763.7 82.9 L764.2 82.3 L764.7 81.7 L765.2 81.1 L765.7 80.6 L766.2 80.0 L766.7 79.4 L767.2 78.8 L767.7 78.2 L768.2 77.6 L768.7 77.0 L769.2 76.4 L769.7 75.9 L770.2 75.3 L770.7 74.7 L771.2 74.2 L771.7 73.7 L772.2 73.2 L772.7 72.7 L773.2 72.4 L773.7 72.0 L774.2 71.7 L774.7 71.5 L775.2 71.4 L775.7 71.3 L776.2 71.3 L776.7 71.4 L777.2 71.6 L777.7 71.8 L778.2 72.2 L778.7 72.6 L779.2 73.1 L779.7 73.7 L780.2 74.4 L780.7 75.2 L781.2 76.0 L781.7 76.9 L782.2 77.9 L782.7 78.9 L783.2 80.0 L783.7 81.1 L784.2 82.4 L784.7 83.6 L785.2 84.9 L785.7 86.2 L786.2 87.5 L786.7 88.8 L787.2 90.2 L787.7 91.5 L788.2 92.8 L788.7 94.0 L789.2 95.2 L789.7 96.4 L790.2 97.5 L790.6 98.3" fill="none" stroke="#ee1c25" stroke-width="3" stroke-linejoin="round" clip-path="url(#cB)"/>
<path d="M439.6 76.8 L440.1 76.5 L440.6 76.1 L441.1 75.8 L441.6 75.5 L442.1 75.2 L442.6 74.9 L443.1 74.6 L443.6 74.3 L444.1 74.0 L444.6 73.7 L445.1 73.5 L445.6 73.2 L446.1 73.0 L446.6 72.7 L447.1 72.5 L447.6 72.2 L448.1 72.0 L448.6 71.7 L449.1 71.5 L449.6 71.2 L450.1 71.0 L450.6 70.7 L451.1 70.5 L451.6 70.2 L452.1 69.9 L452.6 69.6 L453.1 69.3 L453.6 69.0 L454.1 68.7 L454.6 68.4 L455.1 68.0 L455.6 67.7 L456.1 67.3 L456.6 66.9 L457.1 66.5 L457.6 66.1 L458.1 65.6 L458.6 65.2 L459.1 64.7 L459.6 64.2 L460.1 63.7 L460.6 63.2 L461.1 62.7 L461.6 62.1 L462.1 61.6 L462.6 61.0 L463.1 60.4 L463.6 59.9 L464.1 59.3 L464.6 58.7 L465.1 58.1 L465.6 57.4 L466.1 56.8 L466.6 56.2 L467.1 55.5 L467.6 54.9 L468.1 54.3 L468.6 53.6 L469.1 53.0 L469.6 52.3 L470.1 51.7 L470.6 51.1 L471.1 50.4 L471.6 49.8 L472.1 49.2 L472.6 48.6 L473.1 47.9 L473.6 47.3 L474.1 46.7 L474.6 46.2 L475.1 45.6 L475.6 45.0 L476.1 44.5 L476.6 44.0 L477.1 43.5 L477.6 43.0 L478.1 42.5 L478.6 42.0 L479.1 41.5 L479.6 41.1 L480.1 40.6 L480.6 40.2 L481.1 39.7 L481.6 39.3 L482.1 38.9 L482.6 38.5 L483.1 38.0 L483.6 37.6 L484.1 37.2 L484.6 36.8 L485.1 36.4 L485.6 36.0 L486.1 35.6 L486.6 35.2 L487.1 34.8 L487.6 34.4 L488.1 34.0 L488.6 33.6 L489.1 33.2 L489.6 32.8 L490.1 32.4 L490.6 31.9 L491.1 31.5 L491.6 31.0 L492.1 30.6 L492.6 30.1 L493.1 29.7 L493.6 29.2 L494.1 28.7 L494.6 28.2 L495.1 27.7 L495.6 27.2 L496.1 26.7 L496.6 26.2 L497.1 25.7 L497.6 25.2 L498.1 24.7 L498.6 24.2 L499.1 23.7 L499.6 23.3 L500.1 22.8 L500.6 22.4 L501.1 22.0 L501.6 21.7 L502.1 21.3 L502.6 21.0 L503.1 20.7 L503.6 20.4 L504.1 20.2 L504.6 20.0 L505.1 19.9 L505.6 19.7 L506.1 19.7 L506.6 19.6 L507.1 19.7 L507.6 19.7 L508.1 19.9 L508.6 20.1 L509.1 20.3 L509.6 20.6 L510.1 20.9 L510.6 21.4 L511.1 21.8 L511.6 22.4 L512.1 23.0 L512.6 23.7 L513.1 24.5 L513.6 25.3 L514.1 26.2 L514.6 27.2 L515.1 28.2 L515.6 29.2 L516.1 30.4 L516.6 31.5 L517.1 32.8 L517.6 34.1 L518.1 35.4 L518.6 36.7 L519.1 38.1 L519.6 39.6 L520.1 41.1 L520.6 42.6 L521.1 44.1 L521.6 45.7 L522.1 47.3 L522.6 49.0 L523.1 50.6 L523.6 52.3 L524.1 54.0 L524.6 55.8 L525.1 57.5 L525.6 59.3 L526.1 61.1 L526.6 62.9 L527.1 64.8 L527.6 66.6 L528.1 68.5 L528.6 70.4 L529.1 72.2 L529.6 74.1 L530.1 75.9 L530.6 77.8 L531.1 79.6 L531.6 81.3 L532.1 83.0 L532.6 84.7 L533.1 86.3 L533.6 87.9 L534.1 89.4 L534.6 90.8 L535.1 92.2 L535.6 93.6 L536.1 94.9 L536.6 96.1 L537.1 97.3 L537.6 98.4 L538.1 99.5 L538.6 100.5 L539.1 101.5 L539.6 102.5 L540.1 103.4 L540.6 104.2 L541.1 105.0 L541.6 105.8 L542.1 106.5 L542.6 107.1 L543.1 107.7 L543.6 108.3 L544.1 108.8 L544.6 109.2 L545.1 109.6 L545.6 110.0 L546.1 110.3 L546.6 110.6 L547.1 110.8 L547.6 110.9 L548.1 111.0 L548.6 111.1 L549.1 111.1 L549.6 111.0 L550.1 111.0 L550.6 110.8 L551.1 110.6 L551.6 110.4 L552.1 110.2 L552.6 109.9 L553.1 109.6 L553.6 109.2 L554.1 108.9 L554.6 108.5 L555.1 108.0 L555.6 107.6 L556.1 107.1 L556.6 106.6 L557.1 106.1 L557.6 105.6 L558.1 105.1 L558.6 104.5 L559.1 104.0 L559.6 103.4 L560.1 102.8 L560.6 102.3 L561.1 101.7 L561.6 101.2 L562.1 100.6 L562.6 100.0 L563.1 99.5 L563.6 99.0 L564.1 98.4 L564.6 97.9 L565.1 97.4 L565.6 97.0 L566.1 96.5 L566.6 96.1 L567.1 95.7 L567.6 95.3 L568.1 94.9 L568.6 94.5 L569.1 94.2 L569.6 93.9 L570.1 93.6 L570.6 93.2 L571.1 92.9 L571.6 92.6 L572.1 92.4 L572.6 92.1 L573.1 91.8 L573.6 91.5 L574.1 91.2 L574.6 91.0 L575.1 90.7 L575.6 90.4 L576.1 90.1 L576.6 89.8 L577.1 89.5 L577.6 89.2 L578.1 88.9 L578.6 88.5 L579.1 88.2 L579.6 87.8 L580.1 87.4 L580.6 87.0 L581.1 86.6 L581.6 86.2 L582.1 85.7 L582.6 85.2 L583.1 84.7 L583.6 84.2 L584.1 83.6 L584.6 83.1 L585.1 82.5 L585.6 81.9 L586.1 81.4 L586.6 80.8 L587.1 80.2 L587.6 79.6 L588.1 79.1 L588.6 78.5 L589.1 77.9 L589.6 77.4 L590.1 76.9 L590.6 76.4 L591.1 75.9 L591.6 75.4 L592.1 75.0 L592.6 74.6 L593.1 74.2 L593.6 73.9 L594.1 73.5 L594.6 73.3 L595.1 73.1 L595.6 72.9 L596.1 72.7 L596.6 72.6 L597.1 72.6 L597.6 72.6 L598.1 72.7 L598.6 72.8 L599.1 73.0 L599.6 73.3 L600.1 73.6 L600.6 74.0 L601.1 74.5 L601.6 75.1 L602.1 75.7 L602.6 76.4 L603.1 77.2 L603.6 78.1 L604.1 79.0 L604.6 80.0 L605.1 81.0 L605.6 82.1 L606.1 83.1 L606.6 84.2 L607.1 85.3 L607.6 86.4 L608.1 87.5 L608.6 88.6 L609.1 89.7 L609.6 90.8 L610.1 91.8 L610.6 92.8 L611.1 93.7 L611.6 94.6 L612.1 95.5 L612.6 96.3 L613.1 97.1 L613.6 97.8 L614.1 98.4 L614.6 99.0 L615.1 99.5 L615.6 99.9 L616.1 100.2 L616.6 100.4 L617.1 100.6 L617.6 100.8 L618.1 100.8 L618.6 100.9 L619.1 100.8 L619.6 100.7 L620.1 100.6 L620.6 100.4 L621.1 100.2 L621.6 100.0 L622.1 99.7 L622.6 99.4 L623.1 99.1 L623.6 98.7 L624.1 98.4 L624.6 98.0 L625.1 97.6 L625.6 97.3 L626.1 96.9 L626.6 96.5 L627.1 96.1 L627.6 95.7 L628.1 95.3 L628.6 94.9 L629.1 94.4 L629.6 94.0 L630.1 93.6 L630.6 93.2 L631.1 92.7 L631.6 92.3 L632.1 91.8 L632.6 91.3 L633.1 90.8 L633.6 90.4 L634.1 89.9 L634.6 89.4 L635.1 88.8 L635.6 88.3 L636.1 87.8 L636.6 87.2 L637.1 86.7 L637.6 86.1 L638.1 85.5 L638.6 84.9 L639.1 84.3 L639.6 83.7 L640.1 83.1 L640.6 82.5 L641.1 81.8 L641.6 81.2 L642.1 80.5 L642.6 79.8 L643.1 79.1 L643.6 78.3 L644.1 77.6 L644.6 76.9 L645.1 76.1 L645.6 75.3 L646.1 74.6 L646.6 73.8 L647.1 73.0 L647.6 72.2 L648.1 71.5 L648.6 70.7 L649.1 69.9 L649.6 69.1 L650.1 68.4 L650.6 67.6 L651.1 66.9 L651.6 66.1 L652.1 65.4 L652.6 64.7 L653.1 64.0 L653.6 63.4 L654.1 62.7 L654.6 62.1 L655.1 61.5 L655.6 60.9 L656.1 60.4 L656.6 59.9 L657.1 59.4 L657.6 58.9 L658.1 58.4 L658.6 57.9 L659.1 57.5 L659.6 57.1 L660.1 56.7 L660.6 56.2 L661.1 55.8 L661.6 55.5 L662.1 55.1 L662.6 54.7 L663.1 54.3 L663.6 53.9 L664.1 53.5 L664.6 53.1 L665.1 52.7 L665.6 52.3 L666.1 51.9 L666.6 51.5 L667.1 51.1 L667.6 50.6 L668.1 50.2 L668.6 49.7 L669.1 49.2 L669.6 48.7 L670.1 48.2 L670.6 47.6 L671.1 47.0 L671.6 46.5 L672.1 45.9 L672.6 45.2 L673.1 44.6 L673.6 44.0 L674.1 43.3 L674.6 42.7 L675.1 42.0 L675.6 41.4 L676.1 40.7 L676.6 40.1 L677.1 39.5 L677.6 38.8 L678.1 38.2 L678.6 37.6 L679.1 37.0 L679.6 36.5 L680.1 35.9 L680.6 35.4 L681.1 34.9 L681.6 34.4 L682.1 34.0 L682.6 33.6 L683.1 33.2 L683.6 32.8 L684.1 32.5 L684.6 32.3 L685.1 32.0 L685.6 31.9 L686.1 31.8 L686.6 31.7 L687.1 31.7 L687.6 31.7 L688.1 31.8 L688.6 32.0 L689.1 32.2 L689.6 32.5 L690.1 32.8 L690.6 33.3 L691.1 33.8 L691.6 34.4 L692.1 35.0 L692.6 35.8 L693.1 36.6 L693.6 37.5 L694.1 38.4 L694.6 39.5 L695.1 40.6 L695.6 41.8 L696.1 43.0 L696.6 44.3 L697.1 45.7 L697.6 47.1 L698.1 48.5 L698.6 50.1 L699.1 51.7 L699.6 53.3 L700.1 54.9 L700.6 56.7 L701.1 58.4 L701.6 60.2 L702.1 61.9 L702.6 63.8 L703.1 65.6 L703.6 67.4 L704.1 69.3 L704.6 71.1 L705.1 73.0 L705.6 74.8 L706.1 76.7 L706.6 78.5 L707.1 80.3 L707.6 82.1 L708.1 83.8 L708.6 85.5 L709.1 87.2 L709.6 88.9 L710.1 90.5 L710.6 92.0 L711.1 93.6 L711.6 95.0 L712.1 96.5 L712.6 97.9 L713.1 99.2 L713.6 100.6 L714.1 101.8 L714.6 103.1 L715.1 104.3 L715.6 105.4 L716.1 106.5 L716.6 107.6 L717.1 108.6 L717.6 109.5 L718.1 110.5 L718.6 111.3 L719.1 112.2 L719.6 113.0 L720.1 113.7 L720.6 114.4 L721.1 115.0 L721.6 115.6 L722.1 116.2 L722.6 116.7 L723.1 117.1 L723.6 117.5 L724.1 117.9 L724.6 118.2 L725.1 118.5 L725.6 118.7 L726.1 118.8 L726.6 118.9 L727.1 119.0 L727.6 119.0 L728.1 119.0 L728.6 118.9 L729.1 118.8 L729.6 118.6 L730.1 118.4 L730.6 118.2 L731.1 117.9 L731.6 117.6 L732.1 117.2 L732.6 116.8 L733.1 116.4 L733.6 116.0 L734.1 115.5 L734.6 115.0 L735.1 114.5 L735.6 113.9 L736.1 113.4 L736.6 112.8 L737.1 112.2 L737.6 111.6 L738.1 111.0 L738.6 110.3 L739.1 109.7 L739.6 109.0 L740.1 108.4 L740.6 107.7 L741.1 107.0 L741.6 106.4 L742.1 105.7 L742.6 105.0 L743.1 104.4 L743.6 103.7 L744.1 103.1 L744.6 102.4 L745.1 101.8 L745.6 101.2 L746.1 100.6 L746.6 100.0 L747.1 99.4 L747.6 98.9 L748.1 98.4 L748.6 97.9 L749.1 97.4 L749.6 97.0 L750.1 96.6 L750.6 96.2 L751.1 95.8 L751.6 95.5 L752.1 95.1 L752.6 94.8 L753.1 94.5 L753.6 94.2 L754.1 94.0 L754.6 93.7 L755.1 93.5 L755.6 93.2 L756.1 93.0 L756.6 92.7 L757.1 92.5 L757.6 92.2 L758.1 92.0 L758.6 91.7 L759.1 91.4 L759.6 91.1 L760.1 90.8 L760.6 90.5 L761.1 90.1 L761.6 89.7 L762.1 89.3 L762.6 88.9 L763.1 88.4 L763.6 87.9 L764.1 87.4 L764.6 86.9 L765.1 86.3 L765.6 85.7 L766.1 85.1 L766.6 84.5 L767.1 83.9 L767.6 83.3 L768.1 82.7 L768.6 82.1 L769.1 81.5 L769.6 80.9 L770.1 80.3 L770.6 79.8 L771.1 79.2 L771.6 78.7 L772.1 78.3 L772.6 77.8 L773.1 77.5 L773.6 77.1 L774.1 76.8 L774.6 76.6 L775.1 76.4 L775.6 76.4 L776.1 76.3 L776.6 76.4 L777.1 76.5 L777.6 76.7 L778.1 77.0 L778.6 77.4 L779.1 77.8 L779.6 78.3 L780.1 78.9 L780.6 79.5 L781.1 80.2 L781.6 81.0 L782.1 81.8 L782.6 82.7 L783.1 83.6 L783.6 84.6 L784.1 85.6 L784.6 86.7 L785.1 87.8 L785.6 88.9 L786.1 90.0 L786.6 91.1 L787.1 92.2 L787.6 93.3 L788.1 94.4 L788.6 95.4 L789.1 96.3 L789.6 97.2 L790.1 97.9 L790.6 98.6" fill="none" stroke="#111" stroke-width="2.9" stroke-dasharray="2.8 3.1" stroke-linejoin="round" clip-path="url(#cB)"/>
<rect x="439.5" y="11.5" width="351.0" height="129.0" fill="none" stroke="#acacac" stroke-width="1"/>
<path d="M498.5 140.5 v-4 M498.5 11.5 v4 M556.5 140.5 v-4 M556.5 11.5 v4 M615.5 140.5 v-4 M615.5 11.5 v4 M673.5 140.5 v-4 M673.5 11.5 v4 M732.5 140.5 v-4 M732.5 11.5 v4 M439.5 11.5 h4 M790.5 11.5 h-4 M439.5 43.5 h4 M790.5 43.5 h-4 M439.5 75.5 h4 M790.5 75.5 h-4 M439.5 108.5 h4 M790.5 108.5 h-4 M439.5 140.5 h4 M790.5 140.5 h-4" stroke="#acacac" stroke-width="1" fill="none"/>
<rect x="527.5" y="13.5" width="132.5" height="29.3" fill="#fff" stroke="#acacac" stroke-width="1"/>
<path d="M530.6 21 H547" stroke="#ee1c25" stroke-width="2.9"/>
<path d="M531.6 35.4 H547.1" stroke="#111" stroke-width="3" stroke-dasharray="2.9 1.7"/>
<clipPath id="cC"><rect x="40.7" y="179.0" width="352.0" height="135.2"/></clipPath>
<path d="M41.6 210.1 L42.1 209.4 L42.6 208.7 L43.1 208.2 L43.6 207.6 L44.1 207.2 L44.6 206.8 L45.1 206.4 L45.6 206.1 L46.1 205.9 L46.6 205.7 L47.1 205.6 L47.6 205.5 L48.1 205.4 L48.6 205.4 L49.1 205.5 L49.6 205.6 L50.1 205.8 L50.6 205.9 L51.1 206.2 L51.6 206.5 L52.1 206.8 L52.6 207.1 L53.1 207.5 L53.6 207.9 L54.1 208.4 L54.6 208.8 L55.1 209.3 L55.6 209.8 L56.1 210.3 L56.6 210.8 L57.1 211.3 L57.6 211.8 L58.1 212.2 L58.6 212.7 L59.1 213.1 L59.6 213.5 L60.1 213.8 L60.6 214.1 L61.1 214.4 L61.6 214.6 L62.1 214.7 L62.6 214.8 L63.1 214.9 L63.6 214.9 L64.1 214.8 L64.6 214.8 L65.1 214.7 L65.6 214.5 L66.1 214.4 L66.6 214.2 L67.1 214.0 L67.6 213.7 L68.1 213.5 L68.6 213.3 L69.1 213.1 L69.6 212.8 L70.1 212.6 L70.6 212.4 L71.1 212.2 L71.6 212.0 L72.1 211.8 L72.6 211.7 L73.1 211.6 L73.6 211.5 L74.1 211.4 L74.6 211.4 L75.1 211.4 L75.6 211.5 L76.1 211.5 L76.6 211.6 L77.1 211.7 L77.6 211.9 L78.1 212.0 L78.6 212.2 L79.1 212.4 L79.6 212.6 L80.1 212.8 L80.6 213.0 L81.1 213.2 L81.6 213.4 L82.1 213.6 L82.6 213.9 L83.1 214.1 L83.6 214.3 L84.1 214.5 L84.6 214.6 L85.1 214.8 L85.6 215.0 L86.1 215.2 L86.6 215.3 L87.1 215.4 L87.6 215.6 L88.1 215.7 L88.6 215.8 L89.1 216.0 L89.6 216.1 L90.1 216.2 L90.6 216.3 L91.1 216.4 L91.6 216.5 L92.1 216.6 L92.6 216.7 L93.1 216.8 L93.6 217.0 L94.1 217.1 L94.6 217.2 L95.1 217.3 L95.6 217.4 L96.1 217.6 L96.6 217.7 L97.1 217.9 L97.6 218.1 L98.1 218.3 L98.6 218.5 L99.1 218.7 L99.6 219.0 L100.1 219.3 L100.6 219.6 L101.1 219.9 L101.6 220.3 L102.1 220.6 L102.6 221.1 L103.1 221.5 L103.6 222.0 L104.1 222.5 L104.6 223.1 L105.1 223.7 L105.6 224.3 L106.1 225.0 L106.6 225.7 L107.1 226.5 L107.6 227.3 L108.1 228.1 L108.6 229.1 L109.1 230.0 L109.6 231.0 L110.1 232.1 L110.6 233.3 L111.1 234.4 L111.6 235.7 L112.1 237.0 L112.6 238.4 L113.1 239.8 L113.6 241.3 L114.1 242.9 L114.6 244.6 L115.1 246.3 L115.6 248.1 L116.1 249.9 L116.6 251.8 L117.1 253.8 L117.6 255.7 L118.1 257.7 L118.6 259.8 L119.1 261.8 L119.6 263.8 L120.1 265.8 L120.6 267.8 L121.1 269.8 L121.6 271.7 L122.1 273.6 L122.6 275.5 L123.1 277.3 L123.6 279.1 L124.1 280.9 L124.6 282.6 L125.1 284.3 L125.6 286.0 L126.1 287.6 L126.6 289.2 L127.1 290.8 L127.6 292.3 L128.1 293.8 L128.6 295.1 L129.1 296.5 L129.6 297.7 L130.1 298.9 L130.6 299.9 L131.1 300.9 L131.6 301.8 L132.1 302.6 L132.6 303.2 L133.1 303.8 L133.6 304.2 L134.1 304.5 L134.6 304.7 L135.1 304.8 L135.6 304.7 L136.1 304.5 L136.6 304.2 L137.1 303.7 L137.6 303.1 L138.1 302.3 L138.6 301.4 L139.1 300.4 L139.6 299.4 L140.1 298.2 L140.6 297.0 L141.1 295.8 L141.6 294.6 L142.1 293.4 L142.6 292.1 L143.1 290.8 L143.6 289.4 L144.1 288.0 L144.6 286.6 L145.1 285.1 L145.6 283.5 L146.1 281.9 L146.6 280.3 L147.1 278.5 L147.6 276.8 L148.1 274.9 L148.6 273.0 L149.1 271.0 L149.6 269.0 L150.1 266.8 L150.6 264.6 L151.1 262.3 L151.6 260.0 L152.1 257.6 L152.6 255.2 L153.1 252.7 L153.6 250.2 L154.1 247.7 L154.6 245.3 L155.1 242.8 L155.6 240.3 L156.1 237.9 L156.6 235.5 L157.1 233.2 L157.6 230.9 L158.1 228.6 L158.6 226.5 L159.1 224.4 L159.6 222.4 L160.1 220.4 L160.6 218.6 L161.1 216.8 L161.6 215.2 L162.1 213.7 L162.6 212.3 L163.1 211.0 L163.6 209.8 L164.1 208.8 L164.6 207.9 L165.1 207.1 L165.6 206.5 L166.1 205.9 L166.6 205.5 L167.1 205.1 L167.6 204.9 L168.1 204.7 L168.6 204.7 L169.1 204.6 L169.6 204.7 L170.1 204.8 L170.6 205.0 L171.1 205.2 L171.6 205.5 L172.1 205.8 L172.6 206.2 L173.1 206.6 L173.6 207.0 L174.1 207.4 L174.6 207.9 L175.1 208.3 L175.6 208.8 L176.1 209.3 L176.6 209.8 L177.1 210.3 L177.6 210.8 L178.1 211.3 L178.6 211.9 L179.1 212.4 L179.6 212.9 L180.1 213.4 L180.6 213.9 L181.1 214.4 L181.6 214.9 L182.1 215.4 L182.6 215.9 L183.1 216.3 L183.6 216.7 L184.1 217.1 L184.6 217.5 L185.1 217.9 L185.6 218.2 L186.1 218.5 L186.6 218.8 L187.1 219.0 L187.6 219.3 L188.1 219.5 L188.6 219.7 L189.1 219.9 L189.6 220.0 L190.1 220.2 L190.6 220.3 L191.1 220.4 L191.6 220.5 L192.1 220.6 L192.6 220.7 L193.1 220.8 L193.6 220.8 L194.1 220.9 L194.6 220.9 L195.1 220.9 L195.6 220.9 L196.1 221.0 L196.6 221.0 L197.1 221.0 L197.6 221.0 L198.1 221.0 L198.6 221.0 L199.1 221.0 L199.6 221.0 L200.1 221.0 L200.6 221.0 L201.1 221.0 L201.6 221.0 L202.1 221.0 L202.6 221.0 L203.1 221.1 L203.6 221.1 L204.1 221.1 L204.6 221.2 L205.1 221.2 L205.6 221.3 L206.1 221.3 L206.6 221.4 L207.1 221.4 L207.6 221.5 L208.1 221.5 L208.6 221.6 L209.1 221.6 L209.6 221.6 L210.1 221.6 L210.6 221.6 L211.1 221.5 L211.6 221.4 L212.1 221.4 L212.6 221.2 L213.1 221.1 L213.6 220.9 L214.1 220.7 L214.6 220.5 L215.1 220.2 L215.6 219.9 L216.1 219.6 L216.6 219.2 L217.1 218.8 L217.6 218.4 L218.1 218.0 L218.6 217.5 L219.1 217.0 L219.6 216.5 L220.1 215.9 L220.6 215.3 L221.1 214.7 L221.6 214.1 L222.1 213.5 L222.6 212.8 L223.1 212.1 L223.6 211.4 L224.1 210.7 L224.6 210.0 L225.1 209.3 L225.6 208.7 L226.1 208.1 L226.6 207.6 L227.1 207.1 L227.6 206.6 L228.1 206.2 L228.6 205.9 L229.1 205.6 L229.6 205.3 L230.1 205.2 L230.6 205.1 L231.1 205.0 L231.6 205.1 L232.1 205.2 L232.6 205.3 L233.1 205.6 L233.6 205.9 L234.1 206.4 L234.6 206.9 L235.1 207.4 L235.6 208.0 L236.1 208.6 L236.6 209.3 L237.1 209.9 L237.6 210.5 L238.1 211.0 L238.6 211.5 L239.1 211.9 L239.6 212.3 L240.1 212.6 L240.6 212.9 L241.1 213.2 L241.6 213.4 L242.1 213.5 L242.6 213.6 L243.1 213.7 L243.6 213.8 L244.1 213.8 L244.6 213.8 L245.1 213.8 L245.6 213.8 L246.1 213.7 L246.6 213.7 L247.1 213.6 L247.6 213.5 L248.1 213.4 L248.6 213.3 L249.1 213.2 L249.6 213.1 L250.1 213.0 L250.6 212.9 L251.1 212.8 L251.6 212.8 L252.1 212.7 L252.6 212.6 L253.1 212.6 L253.6 212.6 L254.1 212.5 L254.6 212.5 L255.1 212.5 L255.6 212.5 L256.1 212.5 L256.6 212.6 L257.1 212.6 L257.6 212.6 L258.1 212.6 L258.6 212.7 L259.1 212.7 L259.6 212.8 L260.1 212.8 L260.6 212.9 L261.1 213.0 L261.6 213.0 L262.1 213.1 L262.6 213.2 L263.1 213.3 L263.6 213.4 L264.1 213.4 L264.6 213.5 L265.1 213.6 L265.6 213.7 L266.1 213.8 L266.6 213.9 L267.1 214.0 L267.6 214.1 L268.1 214.2 L268.6 214.2 L269.1 214.3 L269.6 214.4 L270.1 214.5 L270.6 214.6 L271.1 214.7 L271.6 214.8 L272.1 214.9 L272.6 215.0 L273.1 215.1 L273.6 215.2 L274.1 215.3 L274.6 215.5 L275.1 215.6 L275.6 215.7 L276.1 215.9 L276.6 216.1 L277.1 216.3 L277.6 216.5 L278.1 216.7 L278.6 216.9 L279.1 217.1 L279.6 217.4 L280.1 217.7 L280.6 218.0 L281.1 218.3 L281.6 218.6 L282.1 219.0 L282.6 219.4 L283.1 219.8 L283.6 220.2 L284.1 220.7 L284.6 221.1 L285.1 221.6 L285.6 222.2 L286.1 222.8 L286.6 223.4 L287.1 224.1 L287.6 224.8 L288.1 225.6 L288.6 226.4 L289.1 227.3 L289.6 228.2 L290.1 229.2 L290.6 230.3 L291.1 231.4 L291.6 232.6 L292.1 233.9 L292.6 235.3 L293.1 236.8 L293.6 238.3 L294.1 239.8 L294.6 241.4 L295.1 243.0 L295.6 244.6 L296.1 246.3 L296.6 248.0 L297.1 249.6 L297.6 251.3 L298.1 253.0 L298.6 254.7 L299.1 256.4 L299.6 258.1 L300.1 259.8 L300.6 261.5 L301.1 263.2 L301.6 265.0 L302.1 266.7 L302.6 268.4 L303.1 270.1 L303.6 271.8 L304.1 273.4 L304.6 275.1 L305.1 276.8 L305.6 278.4 L306.1 280.1 L306.6 281.7 L307.1 283.3 L307.6 284.9 L308.1 286.4 L308.6 288.0 L309.1 289.5 L309.6 290.9 L310.1 292.4 L310.6 293.7 L311.1 295.1 L311.6 296.4 L312.1 297.6 L312.6 298.7 L313.1 299.8 L313.6 300.8 L314.1 301.7 L314.6 302.6 L315.1 303.3 L315.6 304.0 L316.1 304.5 L316.6 305.0 L317.1 305.3 L317.6 305.5 L318.1 305.6 L318.6 305.6 L319.1 305.4 L319.6 305.1 L320.1 304.6 L320.6 304.0 L321.1 303.2 L321.6 302.3 L322.1 301.2 L322.6 300.0 L323.1 298.7 L323.6 297.3 L324.1 295.9 L324.6 294.3 L325.1 292.7 L325.6 291.1 L326.1 289.5 L326.6 287.9 L327.1 286.4 L327.6 284.9 L328.1 283.5 L328.6 282.1 L329.1 280.6 L329.6 279.2 L330.1 277.7 L330.6 276.1 L331.1 274.4 L331.6 272.5 L332.1 270.5 L332.6 268.4 L333.1 266.1 L333.6 263.6 L334.1 261.1 L334.6 258.5 L335.1 255.8 L335.6 253.2 L336.1 250.5 L336.6 247.9 L337.1 245.3 L337.6 242.8 L338.1 240.3 L338.6 237.8 L339.1 235.4 L339.6 233.0 L340.1 230.6 L340.6 228.3 L341.1 226.1 L341.6 223.9 L342.1 221.8 L342.6 219.9 L343.1 218.0 L343.6 216.2 L344.1 214.6 L344.6 213.1 L345.1 211.7 L345.6 210.5 L346.1 209.3 L346.6 208.3 L347.1 207.5 L347.6 206.7 L348.1 206.0 L348.6 205.5 L349.1 205.0 L349.6 204.6 L350.1 204.4 L350.6 204.2 L351.1 204.1 L351.6 204.0 L352.1 204.1 L352.6 204.2 L353.1 204.4 L353.6 204.6 L354.1 204.9 L354.6 205.2 L355.1 205.6 L355.6 206.0 L356.1 206.5 L356.6 207.0 L357.1 207.5 L357.6 208.0 L358.1 208.6 L358.6 209.2 L359.1 209.8 L359.6 210.4 L360.1 211.0 L360.6 211.6 L361.1 212.2 L361.6 212.8 L362.1 213.3 L362.6 213.9 L363.1 214.4 L363.6 214.9 L364.1 215.3 L364.6 215.8 L365.1 216.2 L365.6 216.6 L366.1 217.0 L366.6 217.3 L367.1 217.6 L367.6 217.9 L368.1 218.2 L368.6 218.5 L369.1 218.7 L369.6 218.9 L370.1 219.2 L370.6 219.3 L371.1 219.5 L371.6 219.7 L372.1 219.8 L372.6 220.0 L373.1 220.1 L373.6 220.2 L374.1 220.3 L374.6 220.4 L375.1 220.4 L375.6 220.5 L376.1 220.5 L376.6 220.6 L377.1 220.6 L377.6 220.7 L378.1 220.7 L378.6 220.7 L379.1 220.8 L379.6 220.8 L380.1 220.8 L380.6 220.8 L381.1 220.8 L381.6 220.8 L382.1 220.9 L382.6 220.9 L383.1 220.9 L383.6 220.9 L384.1 221.0 L384.6 221.0 L385.1 221.0 L385.6 221.1 L386.1 221.1 L386.6 221.2 L387.1 221.3 L387.6 221.3 L388.1 221.4 L388.6 221.5 L389.1 221.6 L389.6 221.8 L390.1 221.9 L390.6 222.1 L391.1 222.2 L391.6 222.4 L392.1 222.6 L392.4 222.7" fill="none" stroke="#ee1c25" stroke-width="3" stroke-linejoin="round" clip-path="url(#cC)"/>
<path d="M41.6 222.4 L42.1 221.6 L42.6 220.9 L43.1 220.3 L43.6 219.8 L44.1 219.3 L44.6 218.9 L45.1 218.5 L45.6 218.3 L46.1 218.1 L46.6 217.9 L47.1 217.9 L47.6 217.9 L48.1 217.9 L48.6 218.0 L49.1 218.2 L49.6 218.4 L50.1 218.7 L50.6 219.0 L51.1 219.3 L51.6 219.6 L52.1 219.9 L52.6 220.3 L53.1 220.6 L53.6 221.0 L54.1 221.4 L54.6 221.8 L55.1 222.1 L55.6 222.5 L56.1 222.8 L56.6 223.2 L57.1 223.5 L57.6 223.8 L58.1 224.1 L58.6 224.3 L59.1 224.5 L59.6 224.7 L60.1 224.9 L60.6 225.0 L61.1 225.0 L61.6 225.0 L62.1 225.0 L62.6 224.9 L63.1 224.8 L63.6 224.6 L64.1 224.5 L64.6 224.3 L65.1 224.1 L65.6 223.9 L66.1 223.7 L66.6 223.5 L67.1 223.3 L67.6 223.1 L68.1 222.9 L68.6 222.7 L69.1 222.6 L69.6 222.4 L70.1 222.2 L70.6 222.1 L71.1 222.0 L71.6 221.8 L72.1 221.7 L72.6 221.6 L73.1 221.5 L73.6 221.4 L74.1 221.4 L74.6 221.3 L75.1 221.3 L75.6 221.2 L76.1 221.2 L76.6 221.2 L77.1 221.2 L77.6 221.2 L78.1 221.2 L78.6 221.3 L79.1 221.3 L79.6 221.4 L80.1 221.5 L80.6 221.6 L81.1 221.7 L81.6 221.8 L82.1 221.9 L82.6 222.1 L83.1 222.2 L83.6 222.3 L84.1 222.5 L84.6 222.6 L85.1 222.7 L85.6 222.9 L86.1 223.0 L86.6 223.1 L87.1 223.2 L87.6 223.3 L88.1 223.4 L88.6 223.5 L89.1 223.6 L89.6 223.6 L90.1 223.7 L90.6 223.7 L91.1 223.8 L91.6 223.9 L92.1 223.9 L92.6 224.0 L93.1 224.0 L93.6 224.1 L94.1 224.2 L94.6 224.3 L95.1 224.4 L95.6 224.5 L96.1 224.6 L96.6 224.8 L97.1 225.0 L97.6 225.2 L98.1 225.4 L98.6 225.6 L99.1 225.9 L99.6 226.2 L100.1 226.6 L100.6 226.9 L101.1 227.4 L101.6 227.8 L102.1 228.3 L102.6 228.8 L103.1 229.4 L103.6 230.0 L104.1 230.7 L104.6 231.4 L105.1 232.2 L105.6 233.0 L106.1 233.8 L106.6 234.7 L107.1 235.7 L107.6 236.7 L108.1 237.7 L108.6 238.8 L109.1 239.9 L109.6 241.0 L110.1 242.2 L110.6 243.5 L111.1 244.7 L111.6 246.1 L112.1 247.4 L112.6 248.8 L113.1 250.3 L113.6 251.7 L114.1 253.3 L114.6 254.8 L115.1 256.4 L115.6 258.1 L116.1 259.8 L116.6 261.5 L117.1 263.2 L117.6 264.9 L118.1 266.7 L118.6 268.5 L119.1 270.2 L119.6 272.0 L120.1 273.8 L120.6 275.6 L121.1 277.4 L121.6 279.1 L122.1 280.9 L122.6 282.6 L123.1 284.3 L123.6 286.0 L124.1 287.7 L124.6 289.3 L125.1 290.9 L125.6 292.5 L126.1 294.0 L126.6 295.4 L127.1 296.8 L127.6 298.1 L128.1 299.4 L128.6 300.6 L129.1 301.8 L129.6 302.9 L130.1 303.9 L130.6 304.8 L131.1 305.6 L131.6 306.4 L132.1 307.0 L132.6 307.6 L133.1 308.1 L133.6 308.4 L134.1 308.7 L134.6 308.8 L135.1 308.9 L135.6 308.8 L136.1 308.6 L136.6 308.4 L137.1 308.0 L137.6 307.6 L138.1 307.1 L138.6 306.4 L139.1 305.7 L139.6 304.9 L140.1 304.0 L140.6 303.1 L141.1 302.1 L141.6 301.0 L142.1 299.8 L142.6 298.5 L143.1 297.2 L143.6 295.8 L144.1 294.4 L144.6 292.9 L145.1 291.3 L145.6 289.7 L146.1 288.0 L146.6 286.2 L147.1 284.4 L147.6 282.6 L148.1 280.7 L148.6 278.7 L149.1 276.7 L149.6 274.6 L150.1 272.4 L150.6 270.3 L151.1 268.0 L151.6 265.7 L152.1 263.4 L152.6 261.0 L153.1 258.6 L153.6 256.2 L154.1 253.7 L154.6 251.2 L155.1 248.7 L155.6 246.3 L156.1 243.8 L156.6 241.4 L157.1 239.0 L157.6 236.6 L158.1 234.3 L158.6 232.1 L159.1 229.9 L159.6 227.9 L160.1 225.8 L160.6 223.9 L161.1 222.1 L161.6 220.3 L162.1 218.7 L162.6 217.1 L163.1 215.7 L163.6 214.4 L164.1 213.2 L164.6 212.1 L165.1 211.1 L165.6 210.3 L166.1 209.6 L166.6 209.0 L167.1 208.5 L167.6 208.1 L168.1 207.8 L168.6 207.6 L169.1 207.5 L169.6 207.5 L170.1 207.5 L170.6 207.6 L171.1 207.8 L171.6 208.0 L172.1 208.2 L172.6 208.5 L173.1 208.9 L173.6 209.3 L174.1 209.7 L174.6 210.1 L175.1 210.5 L175.6 211.0 L176.1 211.5 L176.6 212.0 L177.1 212.5 L177.6 213.0 L178.1 213.5 L178.6 214.1 L179.1 214.6 L179.6 215.1 L180.1 215.6 L180.6 216.2 L181.1 216.7 L181.6 217.2 L182.1 217.7 L182.6 218.2 L183.1 218.6 L183.6 219.1 L184.1 219.5 L184.6 219.9 L185.1 220.2 L185.6 220.6 L186.1 220.9 L186.6 221.2 L187.1 221.4 L187.6 221.6 L188.1 221.8 L188.6 222.0 L189.1 222.1 L189.6 222.2 L190.1 222.3 L190.6 222.4 L191.1 222.4 L191.6 222.5 L192.1 222.5 L192.6 222.5 L193.1 222.5 L193.6 222.5 L194.1 222.5 L194.6 222.5 L195.1 222.5 L195.6 222.5 L196.1 222.4 L196.6 222.4 L197.1 222.4 L197.6 222.4 L198.1 222.4 L198.6 222.4 L199.1 222.4 L199.6 222.4 L200.1 222.5 L200.6 222.5 L201.1 222.5 L201.6 222.6 L202.1 222.6 L202.6 222.7 L203.1 222.7 L203.6 222.8 L204.1 222.8 L204.6 222.9 L205.1 223.0 L205.6 223.0 L206.1 223.1 L206.6 223.2 L207.1 223.2 L207.6 223.3 L208.1 223.4 L208.6 223.4 L209.1 223.4 L209.6 223.5 L210.1 223.5 L210.6 223.5 L211.1 223.4 L211.6 223.4 L212.1 223.3 L212.6 223.2 L213.1 223.1 L213.6 222.9 L214.1 222.7 L214.6 222.5 L215.1 222.2 L215.6 221.9 L216.1 221.6 L216.6 221.2 L217.1 220.8 L217.6 220.3 L218.1 219.8 L218.6 219.2 L219.1 218.6 L219.6 218.0 L220.1 217.4 L220.6 216.7 L221.1 216.1 L221.6 215.4 L222.1 214.7 L222.6 214.0 L223.1 213.3 L223.6 212.7 L224.1 212.0 L224.6 211.4 L225.1 210.7 L225.6 210.1 L226.1 209.6 L226.6 209.0 L227.1 208.5 L227.6 208.1 L228.1 207.7 L228.6 207.4 L229.1 207.1 L229.6 206.8 L230.1 206.7 L230.6 206.6 L231.1 206.6 L231.6 206.6 L232.1 206.7 L232.6 206.9 L233.1 207.1 L233.6 207.4 L234.1 207.7 L234.6 208.1 L235.1 208.5 L235.6 208.9 L236.1 209.3 L236.6 209.8 L237.1 210.2 L237.6 210.7 L238.1 211.2 L238.6 211.7 L239.1 212.1 L239.6 212.6 L240.1 213.0 L240.6 213.5 L241.1 213.9 L241.6 214.2 L242.1 214.6 L242.6 214.8 L243.1 215.1 L243.6 215.3 L244.1 215.4 L244.6 215.5 L245.1 215.6 L245.6 215.7 L246.1 215.7 L246.6 215.7 L247.1 215.6 L247.6 215.5 L248.1 215.5 L248.6 215.3 L249.1 215.2 L249.6 215.1 L250.1 214.9 L250.6 214.8 L251.1 214.6 L251.6 214.4 L252.1 214.2 L252.6 214.1 L253.1 213.9 L253.6 213.7 L254.1 213.5 L254.6 213.4 L255.1 213.2 L255.6 213.1 L256.1 213.0 L256.6 212.9 L257.1 212.8 L257.6 212.8 L258.1 212.7 L258.6 212.7 L259.1 212.8 L259.6 212.8 L260.1 212.9 L260.6 213.0 L261.1 213.1 L261.6 213.2 L262.1 213.3 L262.6 213.5 L263.1 213.7 L263.6 213.8 L264.1 214.0 L264.6 214.2 L265.1 214.4 L265.6 214.5 L266.1 214.7 L266.6 214.9 L267.1 215.1 L267.6 215.3 L268.1 215.4 L268.6 215.6 L269.1 215.7 L269.6 215.9 L270.1 216.0 L270.6 216.1 L271.1 216.2 L271.6 216.3 L272.1 216.3 L272.6 216.4 L273.1 216.4 L273.6 216.5 L274.1 216.6 L274.6 216.6 L275.1 216.7 L275.6 216.7 L276.1 216.8 L276.6 216.9 L277.1 217.0 L277.6 217.0 L278.1 217.2 L278.6 217.3 L279.1 217.4 L279.6 217.6 L280.1 217.8 L280.6 218.0 L281.1 218.2 L281.6 218.5 L282.1 218.8 L282.6 219.1 L283.1 219.5 L283.6 219.9 L284.1 220.3 L284.6 220.8 L285.1 221.3 L285.6 221.8 L286.1 222.4 L286.6 223.1 L287.1 223.7 L287.6 224.5 L288.1 225.2 L288.6 226.1 L289.1 226.9 L289.6 227.9 L290.1 228.8 L290.6 229.9 L291.1 231.0 L291.6 232.1 L292.1 233.3 L292.6 234.5 L293.1 235.8 L293.6 237.2 L294.1 238.6 L294.6 240.1 L295.1 241.6 L295.6 243.2 L296.1 244.9 L296.6 246.6 L297.1 248.3 L297.6 250.1 L298.1 252.0 L298.6 253.8 L299.1 255.7 L299.6 257.6 L300.1 259.5 L300.6 261.4 L301.1 263.2 L301.6 265.1 L302.1 266.9 L302.6 268.7 L303.1 270.5 L303.6 272.2 L304.1 273.9 L304.6 275.5 L305.1 277.1 L305.6 278.7 L306.1 280.2 L306.6 281.8 L307.1 283.3 L307.6 284.8 L308.1 286.3 L308.6 287.9 L309.1 289.4 L309.6 290.9 L310.1 292.3 L310.6 293.8 L311.1 295.1 L311.6 296.5 L312.1 297.7 L312.6 298.9 L313.1 300.0 L313.6 301.0 L314.1 302.0 L314.6 302.8 L315.1 303.5 L315.6 304.1 L316.1 304.6 L316.6 304.9 L317.1 305.2 L317.6 305.3 L318.1 305.3 L318.6 305.2 L319.1 305.0 L319.6 304.7 L320.1 304.2 L320.6 303.6 L321.1 302.9 L321.6 302.1 L322.1 301.2 L322.6 300.1 L323.1 298.9 L323.6 297.6 L324.1 296.2 L324.6 294.7 L325.1 293.1 L325.6 291.5 L326.1 289.9 L326.6 288.2 L327.1 286.6 L327.6 285.1 L328.1 283.6 L328.6 282.1 L329.1 280.6 L329.6 279.1 L330.1 277.6 L330.6 275.9 L331.1 274.2 L331.6 272.4 L332.1 270.4 L332.6 268.2 L333.1 266.0 L333.6 263.6 L334.1 261.1 L334.6 258.5 L335.1 255.9 L335.6 253.3 L336.1 250.6 L336.6 248.0 L337.1 245.4 L337.6 242.9 L338.1 240.3 L338.6 237.8 L339.1 235.4 L339.6 232.9 L340.1 230.6 L340.6 228.2 L341.1 226.0 L341.6 223.8 L342.1 221.8 L342.6 219.8 L343.1 217.9 L343.6 216.2 L344.1 214.5 L344.6 213.0 L345.1 211.7 L345.6 210.4 L346.1 209.3 L346.6 208.3 L347.1 207.5 L347.6 206.7 L348.1 206.0 L348.6 205.5 L349.1 205.0 L349.6 204.7 L350.1 204.4 L350.6 204.2 L351.1 204.1 L351.6 204.1 L352.1 204.1 L352.6 204.2 L353.1 204.4 L353.6 204.6 L354.1 204.9 L354.6 205.2 L355.1 205.6 L355.6 206.0 L356.1 206.5 L356.6 207.0 L357.1 207.5 L357.6 208.0 L358.1 208.6 L358.6 209.2 L359.1 209.8 L359.6 210.4 L360.1 211.0 L360.6 211.6 L361.1 212.2 L361.6 212.7 L362.1 213.3 L362.6 213.9 L363.1 214.4 L363.6 214.9 L364.1 215.3 L364.6 215.8 L365.1 216.2 L365.6 216.6 L366.1 217.0 L366.6 217.3 L367.1 217.6 L367.6 217.9 L368.1 218.2 L368.6 218.5 L369.1 218.7 L369.6 218.9 L370.1 219.1 L370.6 219.3 L371.1 219.5 L371.6 219.7 L372.1 219.8 L372.6 219.9 L373.1 220.1 L373.6 220.2 L374.1 220.3 L374.6 220.3 L375.1 220.4 L375.6 220.5 L376.1 220.5 L376.6 220.6 L377.1 220.6 L377.6 220.7 L378.1 220.7 L378.6 220.7 L379.1 220.8 L379.6 220.8 L380.1 220.8 L380.6 220.8 L381.1 220.8 L381.6 220.9 L382.1 220.9 L382.6 220.9 L383.1 220.9 L383.6 220.9 L384.1 221.0 L384.6 221.0 L385.1 221.0 L385.6 221.1 L386.1 221.1 L386.6 221.2 L387.1 221.3 L387.6 221.4 L388.1 221.4 L388.6 221.5 L389.1 221.7 L389.6 221.8 L390.1 221.9 L390.6 222.1 L391.1 222.2 L391.6 222.4 L392.1 222.6 L392.4 222.7" fill="none" stroke="#111" stroke-width="2.9" stroke-dasharray="2.8 3.1" stroke-linejoin="round" clip-path="url(#cC)"/>
<rect x="41.5" y="180.5" width="350.0" height="129.2" fill="none" stroke="#acacac" stroke-width="1"/>
<path d="M100.5 309.7 v-4 M100.5 180.5 v4 M158.5 309.7 v-4 M158.5 180.5 v4 M216.5 309.7 v-4 M216.5 180.5 v4 M275.5 309.7 v-4 M275.5 180.5 v4 M333.5 309.7 v-4 M333.5 180.5 v4 M41.5 180.5 h4 M391.5 180.5 h-4 M41.5 222.5 h4 M391.5 222.5 h-4 M41.5 265.5 h4 M391.5 265.5 h-4 M41.5 308.4 h4 M391.5 308.4 h-4" stroke="#acacac" stroke-width="1" fill="none"/>
<rect x="155.5" y="278.3" width="137.6" height="30.2" fill="#fff" stroke="#acacac" stroke-width="1"/>
<path d="M158.6 286.2 H175.4" stroke="#ee1c25" stroke-width="2.9"/>
<path d="M159.6 300 H175.5" stroke="#111" stroke-width="3" stroke-dasharray="2.9 1.7"/>
<clipPath id="cD"><rect x="438.7" y="179.0" width="353.0" height="134.0"/></clipPath>
<path d="M439.6 209.9 L440.1 209.3 L440.6 208.8 L441.1 208.2 L441.6 207.7 L442.1 207.3 L442.6 206.9 L443.1 206.5 L443.6 206.2 L444.1 206.0 L444.6 205.7 L445.1 205.6 L445.6 205.4 L446.1 205.3 L446.6 205.3 L447.1 205.3 L447.6 205.4 L448.1 205.5 L448.6 205.7 L449.1 205.9 L449.6 206.1 L450.1 206.4 L450.6 206.8 L451.1 207.2 L451.6 207.6 L452.1 208.1 L452.6 208.6 L453.1 209.2 L453.6 209.7 L454.1 210.3 L454.6 210.8 L455.1 211.4 L455.6 211.9 L456.1 212.4 L456.6 212.9 L457.1 213.4 L457.6 213.8 L458.1 214.1 L458.6 214.4 L459.1 214.6 L459.6 214.8 L460.1 214.9 L460.6 214.9 L461.1 214.9 L461.6 214.8 L462.1 214.6 L462.6 214.5 L463.1 214.2 L463.6 214.0 L464.1 213.8 L464.6 213.5 L465.1 213.2 L465.6 213.0 L466.1 212.7 L466.6 212.5 L467.1 212.3 L467.6 212.1 L468.1 211.9 L468.6 211.8 L469.1 211.7 L469.6 211.7 L470.1 211.6 L470.6 211.6 L471.1 211.6 L471.6 211.6 L472.1 211.7 L472.6 211.7 L473.1 211.8 L473.6 211.9 L474.1 211.9 L474.6 212.0 L475.1 212.2 L475.6 212.3 L476.1 212.4 L476.6 212.6 L477.1 212.7 L477.6 212.9 L478.1 213.0 L478.6 213.2 L479.1 213.3 L479.6 213.5 L480.1 213.6 L480.6 213.8 L481.1 213.9 L481.6 214.1 L482.1 214.2 L482.6 214.3 L483.1 214.4 L483.6 214.6 L484.1 214.7 L484.6 214.8 L485.1 214.9 L485.6 215.0 L486.1 215.1 L486.6 215.2 L487.1 215.3 L487.6 215.4 L488.1 215.5 L488.6 215.6 L489.1 215.7 L489.6 215.8 L490.1 215.9 L490.6 216.0 L491.1 216.2 L491.6 216.3 L492.1 216.5 L492.6 216.6 L493.1 216.8 L493.6 217.0 L494.1 217.1 L494.6 217.4 L495.1 217.6 L495.6 217.8 L496.1 218.1 L496.6 218.3 L497.1 218.6 L497.6 218.9 L498.1 219.3 L498.6 219.6 L499.1 220.0 L499.6 220.4 L500.1 220.8 L500.6 221.3 L501.1 221.8 L501.6 222.3 L502.1 222.8 L502.6 223.4 L503.1 224.0 L503.6 224.6 L504.1 225.3 L504.6 226.0 L505.1 226.8 L505.6 227.5 L506.1 228.4 L506.6 229.2 L507.1 230.1 L507.6 231.1 L508.1 232.0 L508.6 233.1 L509.1 234.2 L509.6 235.3 L510.1 236.6 L510.6 237.8 L511.1 239.2 L511.6 240.6 L512.1 242.1 L512.6 243.7 L513.1 245.4 L513.6 247.2 L514.1 249.0 L514.6 250.9 L515.1 253.0 L515.6 255.1 L516.1 257.2 L516.6 259.4 L517.1 261.6 L517.6 263.8 L518.1 265.9 L518.6 268.0 L519.1 270.0 L519.6 271.8 L520.1 273.6 L520.6 275.3 L521.1 277.0 L521.6 278.6 L522.1 280.1 L522.6 281.7 L523.1 283.3 L523.6 284.9 L524.1 286.5 L524.6 288.1 L525.1 289.7 L525.6 291.3 L526.1 292.9 L526.6 294.4 L527.1 295.8 L527.6 297.1 L528.1 298.4 L528.6 299.6 L529.1 300.6 L529.6 301.5 L530.1 302.2 L530.6 302.8 L531.1 303.2 L531.6 303.5 L532.1 303.7 L532.6 303.7 L533.1 303.6 L533.6 303.4 L534.1 303.1 L534.6 302.7 L535.1 302.2 L535.6 301.6 L536.1 300.9 L536.6 300.1 L537.1 299.3 L537.6 298.4 L538.1 297.4 L538.6 296.4 L539.1 295.3 L539.6 294.2 L540.1 293.0 L540.6 291.8 L541.1 290.5 L541.6 289.2 L542.1 287.8 L542.6 286.3 L543.1 284.8 L543.6 283.2 L544.1 281.6 L544.6 279.9 L545.1 278.1 L545.6 276.3 L546.1 274.4 L546.6 272.4 L547.1 270.4 L547.6 268.3 L548.1 266.1 L548.6 263.9 L549.1 261.6 L549.6 259.2 L550.1 256.8 L550.6 254.4 L551.1 251.9 L551.6 249.5 L552.1 247.0 L552.6 244.6 L553.1 242.1 L553.6 239.7 L554.1 237.4 L554.6 235.1 L555.1 232.8 L555.6 230.6 L556.1 228.5 L556.6 226.4 L557.1 224.4 L557.6 222.5 L558.1 220.6 L558.6 218.9 L559.1 217.2 L559.6 215.6 L560.1 214.1 L560.6 212.7 L561.1 211.4 L561.6 210.2 L562.1 209.1 L562.6 208.1 L563.1 207.2 L563.6 206.4 L564.1 205.8 L564.6 205.2 L565.1 204.8 L565.6 204.4 L566.1 204.2 L566.6 204.1 L567.1 204.1 L567.6 204.1 L568.1 204.3 L568.6 204.5 L569.1 204.7 L569.6 205.1 L570.1 205.5 L570.6 205.9 L571.1 206.4 L571.6 206.9 L572.1 207.4 L572.6 208.0 L573.1 208.5 L573.6 209.1 L574.1 209.6 L574.6 210.2 L575.1 210.7 L575.6 211.3 L576.1 211.8 L576.6 212.3 L577.1 212.7 L577.6 213.2 L578.1 213.7 L578.6 214.1 L579.1 214.5 L579.6 214.9 L580.1 215.3 L580.6 215.7 L581.1 216.1 L581.6 216.4 L582.1 216.8 L582.6 217.1 L583.1 217.4 L583.6 217.7 L584.1 218.0 L584.6 218.3 L585.1 218.5 L585.6 218.7 L586.1 219.0 L586.6 219.2 L587.1 219.4 L587.6 219.6 L588.1 219.7 L588.6 219.9 L589.1 220.0 L589.6 220.1 L590.1 220.3 L590.6 220.4 L591.1 220.5 L591.6 220.5 L592.1 220.6 L592.6 220.7 L593.1 220.7 L593.6 220.8 L594.1 220.8 L594.6 220.8 L595.1 220.9 L595.6 220.9 L596.1 220.9 L596.6 220.9 L597.1 220.9 L597.6 220.9 L598.1 221.0 L598.6 221.0 L599.1 221.0 L599.6 221.0 L600.1 221.0 L600.6 221.0 L601.1 221.0 L601.6 221.0 L602.1 221.0 L602.6 221.1 L603.1 221.1 L603.6 221.1 L604.1 221.1 L604.6 221.2 L605.1 221.2 L605.6 221.2 L606.1 221.2 L606.6 221.3 L607.1 221.3 L607.6 221.3 L608.1 221.3 L608.6 221.3 L609.1 221.2 L609.6 221.2 L610.1 221.1 L610.6 221.1 L611.1 220.9 L611.6 220.8 L612.1 220.6 L612.6 220.4 L613.1 220.2 L613.6 219.9 L614.1 219.6 L614.6 219.3 L615.1 218.9 L615.6 218.4 L616.1 217.9 L616.6 217.4 L617.1 216.8 L617.6 216.2 L618.1 215.6 L618.6 215.0 L619.1 214.3 L619.6 213.7 L620.1 213.0 L620.6 212.3 L621.1 211.7 L621.6 211.0 L622.1 210.4 L622.6 209.7 L623.1 209.1 L623.6 208.6 L624.1 208.0 L624.6 207.5 L625.1 207.0 L625.6 206.6 L626.1 206.3 L626.6 206.0 L627.1 205.7 L627.6 205.5 L628.1 205.4 L628.6 205.4 L629.1 205.4 L629.6 205.5 L630.1 205.6 L630.6 205.8 L631.1 206.1 L631.6 206.3 L632.1 206.7 L632.6 207.0 L633.1 207.4 L633.6 207.8 L634.1 208.2 L634.6 208.7 L635.1 209.1 L635.6 209.6 L636.1 210.0 L636.6 210.5 L637.1 210.9 L637.6 211.4 L638.1 211.8 L638.6 212.2 L639.1 212.5 L639.6 212.8 L640.1 213.1 L640.6 213.4 L641.1 213.6 L641.6 213.8 L642.1 213.9 L642.6 214.0 L643.1 214.1 L643.6 214.1 L644.1 214.2 L644.6 214.2 L645.1 214.2 L645.6 214.1 L646.1 214.1 L646.6 214.0 L647.1 213.9 L647.6 213.8 L648.1 213.7 L648.6 213.6 L649.1 213.4 L649.6 213.3 L650.1 213.2 L650.6 213.0 L651.1 212.9 L651.6 212.8 L652.1 212.6 L652.6 212.5 L653.1 212.4 L653.6 212.3 L654.1 212.2 L654.6 212.1 L655.1 212.1 L655.6 212.0 L656.1 212.0 L656.6 212.0 L657.1 212.0 L657.6 212.0 L658.1 212.0 L658.6 212.1 L659.1 212.1 L659.6 212.2 L660.1 212.3 L660.6 212.4 L661.1 212.5 L661.6 212.6 L662.1 212.7 L662.6 212.8 L663.1 212.9 L663.6 213.1 L664.1 213.2 L664.6 213.4 L665.1 213.5 L665.6 213.7 L666.1 213.9 L666.6 214.0 L667.1 214.2 L667.6 214.4 L668.1 214.5 L668.6 214.7 L669.1 214.9 L669.6 215.0 L670.1 215.2 L670.6 215.4 L671.1 215.5 L671.6 215.7 L672.1 215.8 L672.6 216.0 L673.1 216.1 L673.6 216.2 L674.1 216.4 L674.6 216.5 L675.1 216.6 L675.6 216.8 L676.1 216.9 L676.6 217.1 L677.1 217.2 L677.6 217.4 L678.1 217.6 L678.6 217.8 L679.1 218.1 L679.6 218.4 L680.1 218.7 L680.6 219.0 L681.1 219.3 L681.6 219.7 L682.1 220.2 L682.6 220.6 L683.1 221.2 L683.6 221.7 L684.1 222.3 L684.6 223.0 L685.1 223.7 L685.6 224.5 L686.1 225.3 L686.6 226.2 L687.1 227.2 L687.6 228.2 L688.1 229.2 L688.6 230.3 L689.1 231.5 L689.6 232.7 L690.1 234.0 L690.6 235.3 L691.1 236.6 L691.6 238.0 L692.1 239.4 L692.6 240.9 L693.1 242.4 L693.6 243.9 L694.1 245.5 L694.6 247.1 L695.1 248.7 L695.6 250.3 L696.1 252.0 L696.6 253.7 L697.1 255.4 L697.6 257.2 L698.1 258.9 L698.6 260.7 L699.1 262.5 L699.6 264.2 L700.1 266.0 L700.6 267.8 L701.1 269.6 L701.6 271.4 L702.1 273.1 L702.6 274.9 L703.1 276.6 L703.6 278.3 L704.1 280.0 L704.6 281.6 L705.1 283.3 L705.6 284.8 L706.1 286.4 L706.6 287.9 L707.1 289.4 L707.6 290.8 L708.1 292.1 L708.6 293.4 L709.1 294.7 L709.6 295.9 L710.1 297.0 L710.6 298.1 L711.1 299.0 L711.6 299.9 L712.1 300.8 L712.6 301.5 L713.1 302.2 L713.6 302.7 L714.1 303.2 L714.6 303.6 L715.1 303.9 L715.6 304.0 L716.1 304.1 L716.6 304.1 L717.1 303.9 L717.6 303.7 L718.1 303.3 L718.6 302.8 L719.1 302.2 L719.6 301.4 L720.1 300.5 L720.6 299.5 L721.1 298.4 L721.6 297.1 L722.1 295.7 L722.6 294.2 L723.1 292.6 L723.6 290.9 L724.1 289.3 L724.6 287.6 L725.1 285.9 L725.6 284.3 L726.1 282.8 L726.6 281.3 L727.1 279.8 L727.6 278.3 L728.1 276.8 L728.6 275.2 L729.1 273.5 L729.6 271.7 L730.1 269.8 L730.6 267.7 L731.1 265.5 L731.6 263.1 L732.1 260.7 L732.6 258.2 L733.1 255.6 L733.6 253.0 L734.1 250.4 L734.6 247.7 L735.1 245.1 L735.6 242.5 L736.1 239.9 L736.6 237.4 L737.1 234.9 L737.6 232.4 L738.1 230.1 L738.6 227.8 L739.1 225.6 L739.6 223.5 L740.1 221.5 L740.6 219.6 L741.1 217.8 L741.6 216.1 L742.1 214.6 L742.6 213.1 L743.1 211.7 L743.6 210.5 L744.1 209.3 L744.6 208.3 L745.1 207.4 L745.6 206.6 L746.1 205.9 L746.6 205.4 L747.1 204.9 L747.6 204.5 L748.1 204.2 L748.6 204.0 L749.1 203.9 L749.6 203.9 L750.1 203.9 L750.6 204.1 L751.1 204.2 L751.6 204.5 L752.1 204.8 L752.6 205.2 L753.1 205.6 L753.6 206.0 L754.1 206.5 L754.6 207.0 L755.1 207.6 L755.6 208.2 L756.1 208.8 L756.6 209.4 L757.1 210.0 L757.6 210.6 L758.1 211.3 L758.6 211.9 L759.1 212.5 L759.6 213.2 L760.1 213.8 L760.6 214.3 L761.1 214.9 L761.6 215.4 L762.1 215.9 L762.6 216.4 L763.1 216.8 L763.6 217.3 L764.1 217.7 L764.6 218.0 L765.1 218.4 L765.6 218.7 L766.1 219.0 L766.6 219.3 L767.1 219.5 L767.6 219.7 L768.1 219.9 L768.6 220.1 L769.1 220.3 L769.6 220.5 L770.1 220.6 L770.6 220.7 L771.1 220.9 L771.6 221.0 L772.1 221.0 L772.6 221.1 L773.1 221.2 L773.6 221.2 L774.1 221.3 L774.6 221.3 L775.1 221.3 L775.6 221.3 L776.1 221.3 L776.6 221.4 L777.1 221.4 L777.6 221.4 L778.1 221.3 L778.6 221.3 L779.1 221.3 L779.6 221.3 L780.1 221.3 L780.6 221.3 L781.1 221.3 L781.6 221.3 L782.1 221.3 L782.6 221.3 L783.1 221.3 L783.6 221.3 L784.1 221.3 L784.6 221.3 L785.1 221.4 L785.6 221.4 L786.1 221.5 L786.6 221.5 L787.1 221.6 L787.6 221.7 L788.1 221.8 L788.6 221.9 L789.1 222.0 L789.6 222.2 L790.1 222.3 L790.6 222.5" fill="none" stroke="#ee1c25" stroke-width="3" stroke-linejoin="round" clip-path="url(#cD)"/>
<path d="M439.6 222.4 L440.1 221.7 L440.6 221.0 L441.1 220.5 L441.6 220.0 L442.1 219.5 L442.6 219.2 L443.1 218.9 L443.6 218.6 L444.1 218.5 L444.6 218.3 L445.1 218.3 L445.6 218.3 L446.1 218.3 L446.6 218.3 L447.1 218.4 L447.6 218.6 L448.1 218.7 L448.6 218.9 L449.1 219.2 L449.6 219.4 L450.1 219.7 L450.6 219.9 L451.1 220.2 L451.6 220.5 L452.1 220.8 L452.6 221.1 L453.1 221.4 L453.6 221.7 L454.1 222.0 L454.6 222.3 L455.1 222.6 L455.6 222.8 L456.1 223.1 L456.6 223.3 L457.1 223.5 L457.6 223.7 L458.1 223.9 L458.6 224.0 L459.1 224.1 L459.6 224.2 L460.1 224.3 L460.6 224.3 L461.1 224.2 L461.6 224.1 L462.1 224.0 L462.6 223.8 L463.1 223.7 L463.6 223.5 L464.1 223.3 L464.6 223.0 L465.1 222.8 L465.6 222.6 L466.1 222.4 L466.6 222.2 L467.1 222.1 L467.6 221.9 L468.1 221.8 L468.6 221.7 L469.1 221.6 L469.6 221.5 L470.1 221.5 L470.6 221.4 L471.1 221.4 L471.6 221.3 L472.1 221.3 L472.6 221.3 L473.1 221.3 L473.6 221.3 L474.1 221.3 L474.6 221.3 L475.1 221.4 L475.6 221.4 L476.1 221.4 L476.6 221.5 L477.1 221.5 L477.6 221.6 L478.1 221.6 L478.6 221.7 L479.1 221.8 L479.6 221.8 L480.1 221.9 L480.6 222.0 L481.1 222.0 L481.6 222.1 L482.1 222.1 L482.6 222.2 L483.1 222.3 L483.6 222.3 L484.1 222.4 L484.6 222.5 L485.1 222.5 L485.6 222.6 L486.1 222.7 L486.6 222.7 L487.1 222.8 L487.6 222.9 L488.1 223.0 L488.6 223.0 L489.1 223.1 L489.6 223.2 L490.1 223.3 L490.6 223.4 L491.1 223.6 L491.6 223.7 L492.1 223.8 L492.6 223.9 L493.1 224.1 L493.6 224.2 L494.1 224.4 L494.6 224.6 L495.1 224.8 L495.6 225.0 L496.1 225.2 L496.6 225.4 L497.1 225.7 L497.6 226.0 L498.1 226.3 L498.6 226.7 L499.1 227.1 L499.6 227.5 L500.1 228.0 L500.6 228.5 L501.1 229.0 L501.6 229.6 L502.1 230.2 L502.6 230.9 L503.1 231.6 L503.6 232.4 L504.1 233.2 L504.6 234.1 L505.1 235.1 L505.6 236.1 L506.1 237.1 L506.6 238.3 L507.1 239.4 L507.6 240.7 L508.1 242.0 L508.6 243.3 L509.1 244.7 L509.6 246.1 L510.1 247.6 L510.6 249.1 L511.1 250.6 L511.6 252.2 L512.1 253.8 L512.6 255.4 L513.1 257.0 L513.6 258.7 L514.1 260.3 L514.6 262.0 L515.1 263.7 L515.6 265.4 L516.1 267.1 L516.6 268.8 L517.1 270.5 L517.6 272.2 L518.1 273.9 L518.6 275.6 L519.1 277.2 L519.6 278.9 L520.1 280.5 L520.6 282.1 L521.1 283.7 L521.6 285.3 L522.1 286.9 L522.6 288.4 L523.1 289.9 L523.6 291.3 L524.1 292.7 L524.6 294.1 L525.1 295.4 L525.6 296.7 L526.1 298.0 L526.6 299.2 L527.1 300.3 L527.6 301.4 L528.1 302.5 L528.6 303.5 L529.1 304.4 L529.6 305.3 L530.1 306.0 L530.6 306.8 L531.1 307.4 L531.6 307.9 L532.1 308.4 L532.6 308.7 L533.1 308.9 L533.6 309.0 L534.1 309.0 L534.6 308.9 L535.1 308.6 L535.6 308.1 L536.1 307.5 L536.6 306.8 L537.1 305.8 L537.6 304.7 L538.1 303.5 L538.6 302.1 L539.1 300.6 L539.6 298.9 L540.1 297.2 L540.6 295.5 L541.1 293.6 L541.6 291.8 L542.1 289.9 L542.6 288.0 L543.1 286.1 L543.6 284.2 L544.1 282.4 L544.6 280.7 L545.1 279.0 L545.6 277.3 L546.1 275.6 L546.6 273.9 L547.1 272.3 L547.6 270.6 L548.1 268.8 L548.6 267.0 L549.1 265.2 L549.6 263.3 L550.1 261.4 L550.6 259.4 L551.1 257.3 L551.6 255.2 L552.1 253.0 L552.6 250.7 L553.1 248.4 L553.6 246.0 L554.1 243.5 L554.6 240.9 L555.1 238.3 L555.6 235.8 L556.1 233.3 L556.6 230.9 L557.1 228.7 L557.6 226.5 L558.1 224.5 L558.6 222.6 L559.1 220.7 L559.6 219.0 L560.1 217.4 L560.6 216.0 L561.1 214.6 L561.6 213.4 L562.1 212.2 L562.6 211.2 L563.1 210.3 L563.6 209.5 L564.1 208.8 L564.6 208.3 L565.1 207.8 L565.6 207.5 L566.1 207.3 L566.6 207.1 L567.1 207.1 L567.6 207.1 L568.1 207.2 L568.6 207.4 L569.1 207.7 L569.6 207.9 L570.1 208.3 L570.6 208.6 L571.1 209.0 L571.6 209.4 L572.1 209.8 L572.6 210.3 L573.1 210.7 L573.6 211.1 L574.1 211.6 L574.6 212.0 L575.1 212.5 L575.6 212.9 L576.1 213.4 L576.6 213.8 L577.1 214.3 L577.6 214.7 L578.1 215.1 L578.6 215.6 L579.1 216.0 L579.6 216.4 L580.1 216.8 L580.6 217.1 L581.1 217.5 L581.6 217.8 L582.1 218.2 L582.6 218.5 L583.1 218.8 L583.6 219.0 L584.1 219.3 L584.6 219.5 L585.1 219.7 L585.6 219.9 L586.1 220.1 L586.6 220.2 L587.1 220.3 L587.6 220.4 L588.1 220.5 L588.6 220.6 L589.1 220.7 L589.6 220.8 L590.1 220.8 L590.6 220.9 L591.1 220.9 L591.6 220.9 L592.1 220.9 L592.6 221.0 L593.1 221.0 L593.6 221.0 L594.1 221.0 L594.6 221.0 L595.1 221.1 L595.6 221.1 L596.1 221.1 L596.6 221.2 L597.1 221.2 L597.6 221.2 L598.1 221.3 L598.6 221.3 L599.1 221.4 L599.6 221.5 L600.1 221.5 L600.6 221.6 L601.1 221.6 L601.6 221.7 L602.1 221.7 L602.6 221.8 L603.1 221.8 L603.6 221.9 L604.1 221.9 L604.6 221.9 L605.1 221.9 L605.6 221.9 L606.1 221.9 L606.6 221.9 L607.1 221.9 L607.6 221.8 L608.1 221.8 L608.6 221.7 L609.1 221.6 L609.6 221.5 L610.1 221.4 L610.6 221.2 L611.1 221.1 L611.6 220.9 L612.1 220.7 L612.6 220.5 L613.1 220.3 L613.6 220.0 L614.1 219.7 L614.6 219.4 L615.1 219.1 L615.6 218.7 L616.1 218.3 L616.6 217.9 L617.1 217.5 L617.6 217.0 L618.1 216.5 L618.6 216.0 L619.1 215.4 L619.6 214.8 L620.1 214.1 L620.6 213.5 L621.1 212.8 L621.6 212.1 L622.1 211.4 L622.6 210.7 L623.1 210.0 L623.6 209.3 L624.1 208.6 L624.6 208.0 L625.1 207.4 L625.6 206.9 L626.1 206.5 L626.6 206.1 L627.1 205.8 L627.6 205.5 L628.1 205.4 L628.6 205.3 L629.1 205.4 L629.6 205.5 L630.1 205.7 L630.6 205.9 L631.1 206.3 L631.6 206.6 L632.1 207.0 L632.6 207.5 L633.1 207.9 L633.6 208.4 L634.1 208.9 L634.6 209.4 L635.1 209.9 L635.6 210.4 L636.1 211.0 L636.6 211.4 L637.1 211.9 L637.6 212.4 L638.1 212.8 L638.6 213.1 L639.1 213.5 L639.6 213.7 L640.1 214.0 L640.6 214.1 L641.1 214.2 L641.6 214.3 L642.1 214.3 L642.6 214.3 L643.1 214.3 L643.6 214.3 L644.1 214.2 L644.6 214.2 L645.1 214.1 L645.6 214.1 L646.1 214.0 L646.6 213.9 L647.1 213.9 L647.6 213.8 L648.1 213.7 L648.6 213.7 L649.1 213.6 L649.6 213.5 L650.1 213.4 L650.6 213.4 L651.1 213.3 L651.6 213.2 L652.1 213.2 L652.6 213.1 L653.1 213.0 L653.6 213.0 L654.1 212.9 L654.6 212.9 L655.1 212.9 L655.6 212.8 L656.1 212.8 L656.6 212.8 L657.1 212.8 L657.6 212.8 L658.1 212.8 L658.6 212.8 L659.1 212.9 L659.6 212.9 L660.1 212.9 L660.6 213.0 L661.1 213.1 L661.6 213.2 L662.1 213.3 L662.6 213.4 L663.1 213.5 L663.6 213.6 L664.1 213.8 L664.6 213.9 L665.1 214.1 L665.6 214.2 L666.1 214.4 L666.6 214.5 L667.1 214.7 L667.6 214.9 L668.1 215.1 L668.6 215.2 L669.1 215.4 L669.6 215.6 L670.1 215.7 L670.6 215.9 L671.1 216.0 L671.6 216.2 L672.1 216.3 L672.6 216.5 L673.1 216.6 L673.6 216.7 L674.1 216.9 L674.6 217.0 L675.1 217.1 L675.6 217.2 L676.1 217.3 L676.6 217.5 L677.1 217.6 L677.6 217.8 L678.1 218.0 L678.6 218.2 L679.1 218.4 L679.6 218.7 L680.1 219.0 L680.6 219.3 L681.1 219.6 L681.6 220.0 L682.1 220.5 L682.6 220.9 L683.1 221.5 L683.6 222.0 L684.1 222.7 L684.6 223.3 L685.1 224.1 L685.6 224.8 L686.1 225.7 L686.6 226.6 L687.1 227.6 L687.6 228.6 L688.1 229.7 L688.6 230.9 L689.1 232.1 L689.6 233.3 L690.1 234.6 L690.6 235.9 L691.1 237.3 L691.6 238.7 L692.1 240.2 L692.6 241.7 L693.1 243.2 L693.6 244.8 L694.1 246.3 L694.6 247.9 L695.1 249.6 L695.6 251.2 L696.1 252.9 L696.6 254.5 L697.1 256.2 L697.6 257.9 L698.1 259.6 L698.6 261.4 L699.1 263.1 L699.6 264.8 L700.1 266.5 L700.6 268.2 L701.1 270.0 L701.6 271.7 L702.1 273.3 L702.6 275.0 L703.1 276.7 L703.6 278.3 L704.1 280.0 L704.6 281.6 L705.1 283.2 L705.6 284.7 L706.1 286.3 L706.6 287.8 L707.1 289.2 L707.6 290.7 L708.1 292.1 L708.6 293.4 L709.1 294.7 L709.6 296.0 L710.1 297.2 L710.6 298.4 L711.1 299.5 L711.6 300.5 L712.1 301.5 L712.6 302.3 L713.1 303.1 L713.6 303.8 L714.1 304.3 L714.6 304.8 L715.1 305.1 L715.6 305.3 L716.1 305.3 L716.6 305.2 L717.1 304.9 L717.6 304.6 L718.1 304.0 L718.6 303.4 L719.1 302.6 L719.6 301.7 L720.1 300.7 L720.6 299.6 L721.1 298.4 L721.6 297.1 L722.1 295.7 L722.6 294.3 L723.1 292.7 L723.6 291.2 L724.1 289.6 L724.6 288.0 L725.1 286.4 L725.6 284.9 L726.1 283.4 L726.6 281.9 L727.1 280.4 L727.6 278.9 L728.1 277.4 L728.6 275.7 L729.1 274.0 L729.6 272.2 L730.1 270.3 L730.6 268.2 L731.1 266.0 L731.6 263.6 L732.1 261.2 L732.6 258.7 L733.1 256.1 L733.6 253.5 L734.1 250.9 L734.6 248.3 L735.1 245.7 L735.6 243.0 L736.1 240.4 L736.6 237.8 L737.1 235.3 L737.6 232.8 L738.1 230.4 L738.6 228.1 L739.1 225.8 L739.6 223.7 L740.1 221.8 L740.6 219.9 L741.1 218.2 L741.6 216.6 L742.1 215.1 L742.6 213.7 L743.1 212.4 L743.6 211.2 L744.1 210.1 L744.6 209.2 L745.1 208.3 L745.6 207.5 L746.1 206.9 L746.6 206.3 L747.1 205.7 L747.6 205.3 L748.1 205.0 L748.6 204.7 L749.1 204.5 L749.6 204.3 L750.1 204.3 L750.6 204.2 L751.1 204.3 L751.6 204.4 L752.1 204.5 L752.6 204.7 L753.1 205.0 L753.6 205.2 L754.1 205.6 L754.6 205.9 L755.1 206.3 L755.6 206.7 L756.1 207.1 L756.6 207.6 L757.1 208.0 L757.6 208.5 L758.1 209.0 L758.6 209.5 L759.1 210.0 L759.6 210.5 L760.1 211.0 L760.6 211.5 L761.1 212.0 L761.6 212.4 L762.1 212.9 L762.6 213.3 L763.1 213.7 L763.6 214.1 L764.1 214.5 L764.6 214.8 L765.1 215.1 L765.6 215.4 L766.1 215.7 L766.6 216.0 L767.1 216.2 L767.6 216.4 L768.1 216.6 L768.6 216.8 L769.1 217.0 L769.6 217.2 L770.1 217.3 L770.6 217.5 L771.1 217.6 L771.6 217.7 L772.1 217.8 L772.6 217.9 L773.1 218.0 L773.6 218.0 L774.1 218.1 L774.6 218.1 L775.1 218.2 L775.6 218.2 L776.1 218.3 L776.6 218.3 L777.1 218.3 L777.6 218.3 L778.1 218.3 L778.6 218.3 L779.1 218.4 L779.6 218.4 L780.1 218.4 L780.6 218.4 L781.1 218.4 L781.6 218.4 L782.1 218.4 L782.6 218.4 L783.1 218.4 L783.6 218.4 L784.1 218.5 L784.6 218.5 L785.1 218.5 L785.6 218.5 L786.1 218.6 L786.6 218.6 L787.1 218.7 L787.6 218.8 L788.1 218.8 L788.6 218.9 L789.1 219.0 L789.6 219.1 L790.1 219.3 L790.6 219.4" fill="none" stroke="#111" stroke-width="2.9" stroke-dasharray="2.8 3.1" stroke-linejoin="round" clip-path="url(#cD)"/>
<rect x="439.5" y="180.5" width="351.0" height="128.0" fill="none" stroke="#acacac" stroke-width="1"/>
<path d="M498.5 308.5 v-4 M498.5 180.5 v4 M556.5 308.5 v-4 M556.5 180.5 v4 M615.5 308.5 v-4 M615.5 180.5 v4 M673.5 308.5 v-4 M673.5 180.5 v4 M732.5 308.5 v-4 M732.5 180.5 v4 M439.5 180.5 h4 M790.5 180.5 h-4 M439.5 222.5 h4 M790.5 222.5 h-4 M439.5 264.5 h4 M790.5 264.5 h-4 M439.5 306.5 h4 M790.5 306.5 h-4" stroke="#acacac" stroke-width="1" fill="none"/>
<rect x="553.5" y="276.4" width="136.9" height="29.1" fill="#fff" stroke="#acacac" stroke-width="1"/>
<path d="M559 283 H575.6" stroke="#ee1c25" stroke-width="2.9"/>
<path d="M560.0 297.4 H575.7" stroke="#111" stroke-width="3" stroke-dasharray="2.9 1.7"/>
</g>
<g filter="url(#nf)">
<text x="41.0" y="16.7" text-anchor="end" class="tk">0.4</text>
<text x="41.0" y="54.7" text-anchor="end" class="tk">0.2</text>
<text x="41.0" y="92.7" text-anchor="end" class="tk">0</text>
<text x="41.0" y="130.7" text-anchor="end" class="tk">-0.2</text>
<text x="44.7" y="157.3" text-anchor="middle" class="tk">0</text>
<text x="103.1" y="157.3" text-anchor="middle" class="tk">0.5</text>
<text x="161.5" y="157.3" text-anchor="middle" class="tk">1</text>
<text x="219.9" y="157.3" text-anchor="middle" class="tk">1.5</text>
<text x="278.3" y="157.3" text-anchor="middle" class="tk">2</text>
<text x="336.7" y="157.3" text-anchor="middle" class="tk">2.5</text>
<text x="395.1" y="157.3" text-anchor="middle" class="tk">3</text>
<text x="47.1" y="39.70" class="let">A</text>
<text x="223.4" y="175" text-anchor="middle" class="xl">Time (s)</text>
<text transform="translate(13.1 153.5) rotate(-90)" class="yl">Hip angle tracking (rad)</text>
<text x="153" y="25" class="lg">Desired trajectory</text>
<text x="154.4" y="39" class="lg">Tracking trajectory</text>
<text x="439.0" y="16.7" text-anchor="end" class="tk">0.4</text>
<text x="439.0" y="48.7" text-anchor="end" class="tk">0.2</text>
<text x="439.0" y="80.7" text-anchor="end" class="tk">0</text>
<text x="439.0" y="113.7" text-anchor="end" class="tk">-0.2</text>
<text x="439.0" y="146.4" text-anchor="end" class="tk">-0.4</text>
<text x="442.7" y="158.0" text-anchor="middle" class="tk">0</text>
<text x="501.2" y="158.0" text-anchor="middle" class="tk">0.5</text>
<text x="559.7" y="158.0" text-anchor="middle" class="tk">1</text>
<text x="618.2" y="158.0" text-anchor="middle" class="tk">1.5</text>
<text x="676.7" y="158.0" text-anchor="middle" class="tk">2</text>
<text x="735.2" y="158.0" text-anchor="middle" class="tk">2.5</text>
<text x="793.7" y="158.0" text-anchor="middle" class="tk">3</text>
<text x="445.6" y="39.70" class="let">B</text>
<text x="621.7" y="175.4" text-anchor="middle" class="xl">Time (s)</text>
<text transform="translate(410.5 149.5) rotate(-90)" class="yl">Hip angle tracking (rad)</text>
<text x="551" y="26" class="lg">Desired trajectory</text>
<text x="552" y="40.4" class="lg">Tracking trajectory</text>
<text x="41.0" y="185.7" text-anchor="end" class="tk">0.5</text>
<text x="41.0" y="227.7" text-anchor="end" class="tk">0</text>
<text x="41.0" y="270.7" text-anchor="end" class="tk">-0.5</text>
<text x="40.1" y="314.3" text-anchor="end" class="tk">-1</text>
<text x="44.7" y="327.6" text-anchor="middle" class="tk">0</text>
<text x="103.0" y="327.6" text-anchor="middle" class="tk">0.5</text>
<text x="161.4" y="327.6" text-anchor="middle" class="tk">1</text>
<text x="219.7" y="327.6" text-anchor="middle" class="tk">1.5</text>
<text x="278.0" y="327.6" text-anchor="middle" class="tk">2</text>
<text x="336.4" y="327.6" text-anchor="middle" class="tk">2.5</text>
<text x="394.7" y="327.6" text-anchor="middle" class="tk">3</text>
<text x="47.0" y="203.55" class="let">C</text>
<text x="223.2" y="344.6" text-anchor="middle" class="xl">Time (s)</text>
<text transform="translate(13.5 322) rotate(-90)" class="yl">Knee angle tracking (rad)</text>
<text x="185.5" y="291" class="lg">Desired trajectory</text>
<text x="186.8" y="305.4" class="lg">Tracking trajectory</text>
<text x="439.0" y="185.7" text-anchor="end" class="tk">0.5</text>
<text x="439.0" y="227.7" text-anchor="end" class="tk">0</text>
<text x="439.0" y="269.7" text-anchor="end" class="tk">-0.5</text>
<text x="438.1" y="312.5" text-anchor="end" class="tk">-1</text>
<text x="442.7" y="326.4" text-anchor="middle" class="tk">0</text>
<text x="501.2" y="326.4" text-anchor="middle" class="tk">0.5</text>
<text x="559.7" y="326.4" text-anchor="middle" class="tk">1</text>
<text x="618.2" y="326.4" text-anchor="middle" class="tk">1.5</text>
<text x="676.7" y="326.4" text-anchor="middle" class="tk">2</text>
<text x="735.2" y="326.4" text-anchor="middle" class="tk">2.5</text>
<text x="793.7" y="326.4" text-anchor="middle" class="tk">3</text>
<text x="445.1" y="203.45" class="let">D</text>
<text x="621.7" y="344" text-anchor="middle" class="xl">Time (s)</text>
<text transform="translate(411.5 320.3) rotate(-90)" class="yl">Knee angle tracking (rad)</text>
<text x="579.6" y="288" class="lg">Desired trajectory</text>
<text x="580.6" y="302" class="lg">Tracking trajectory</text>
</g>
</svg>
</body></html>
